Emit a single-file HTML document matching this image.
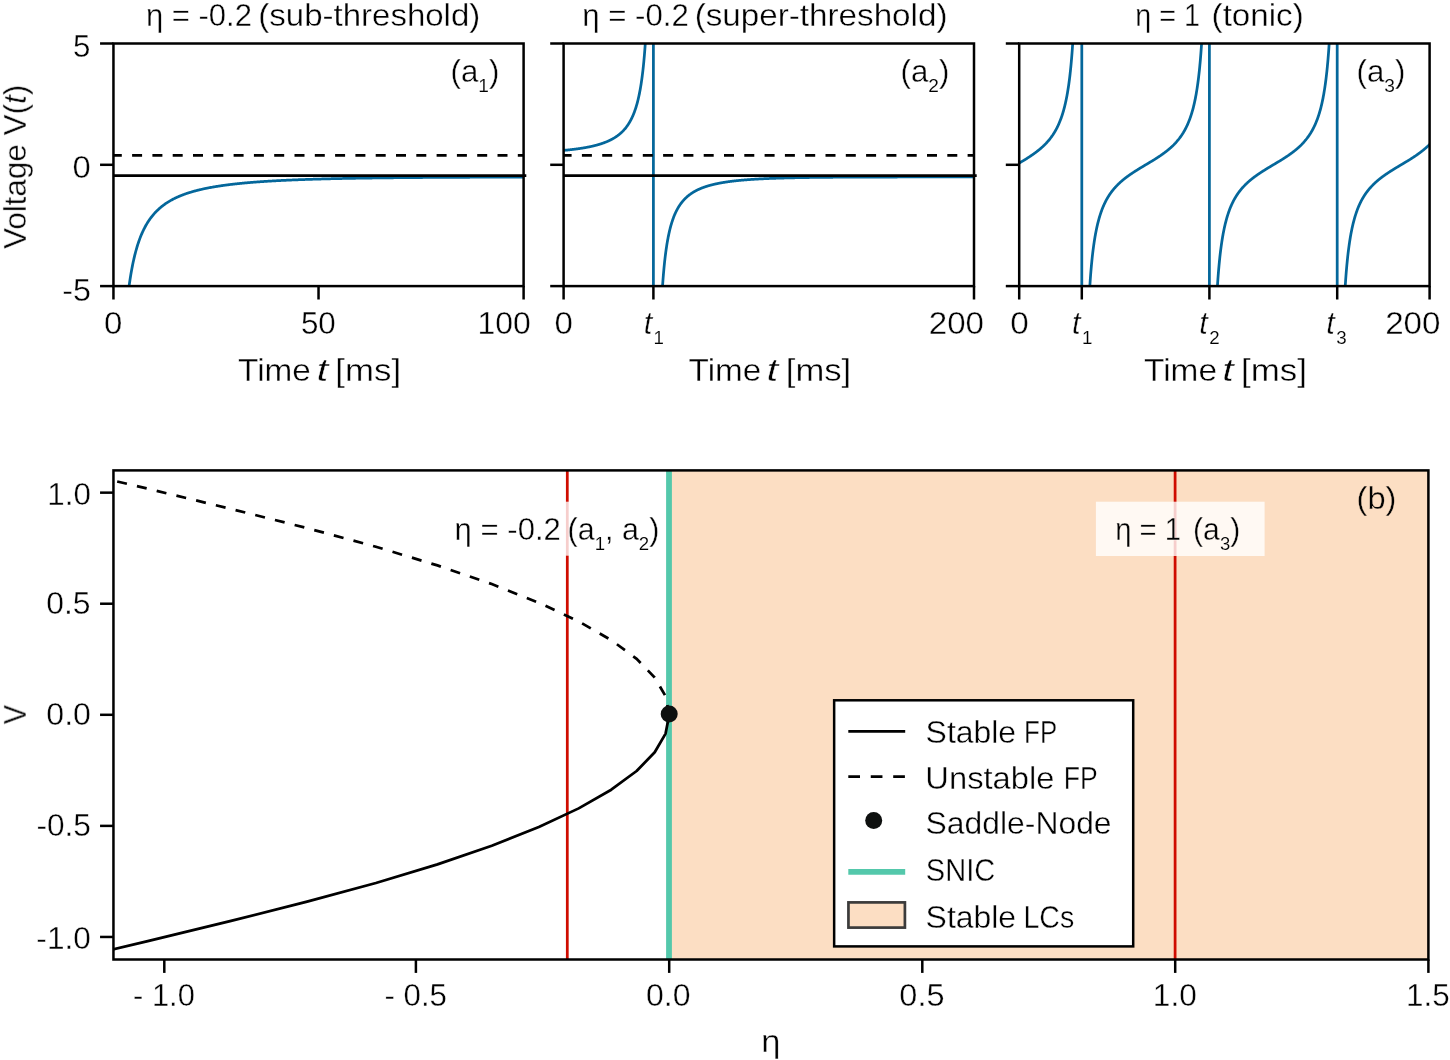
<!DOCTYPE html>
<html><head><meta charset="utf-8"><title>QIF neuron</title>
<style>
html,body{margin:0;padding:0;background:#fff;}
body{width:1450px;height:1060px;overflow:hidden;font-family:"Liberation Sans",sans-serif;}
svg{display:block;}
</style></head><body>
<svg width="1450" height="1060" viewBox="0 0 1450 1060">
<rect width="1450" height="1060" fill="#fff"/>
<defs>
<clipPath id="c0"><rect x="113.45" y="43.5" width="410.15" height="242.6"/></clipPath>
<clipPath id="c1"><rect x="563.6" y="43.5" width="410.4" height="242.6"/></clipPath>
<clipPath id="c2"><rect x="1019.2" y="43.5" width="410.4" height="242.6"/></clipPath>
</defs>
<g clip-path="url(#c0)">
<path d="M119.6 450.38 L120.01 434.54 L120.42 420.36 L120.83 407.6 L121.24 396.06 L121.65 385.57 L122.06 375.99 L122.47 367.21 L122.88 359.13 L123.29 351.68 L123.7 344.78 L124.11 338.37 L124.52 332.4 L124.93 326.84 L125.34 321.63 L125.75 316.75 L126.16 312.16 L126.57 307.85 L126.98 303.78 L127.4 299.94 L127.81 296.31 L128.22 292.87 L128.63 289.6 L129.04 286.5 L129.45 283.56 L129.86 280.75 L130.27 278.07 L130.68 275.52 L131.09 273.08 L131.5 270.74 L131.91 268.51 L132.32 266.37 L132.73 264.32 L133.14 262.34 L133.55 260.45 L133.96 258.63 L134.37 256.88 L134.78 255.2 L135.19 253.57 L135.6 252.01 L136.01 250.5 L136.42 249.04 L136.83 247.63 L137.24 246.27 L137.65 244.96 L138.06 243.68 L138.47 242.45 L138.88 241.26 L139.29 240.1 L139.7 238.98 L140.11 237.89 L140.52 236.84 L140.93 235.81 L141.34 234.82 L141.75 233.85 L142.16 232.92 L142.57 232 L142.98 231.11 L143.39 230.25 L143.8 229.41 L144.21 228.59 L144.62 227.79 L145.03 227.01 L145.44 226.26 L145.85 225.52 L146.26 224.8 L146.67 224.09 L147.08 223.41 L147.49 222.74 L147.9 222.09 L148.31 221.45 L148.72 220.82 L149.13 220.21 L149.54 219.62 L149.95 219.04 L150.36 218.47 L150.77 217.91 L151.18 217.36 L151.59 216.83 L152 216.31 L152.41 215.8 L152.82 215.3 L153.23 214.81 L153.64 214.33 L154.05 213.86 L154.46 213.4 L154.88 212.94 L155.29 212.5 L155.7 212.07 L156.11 211.64 L156.52 211.22 L156.93 210.81 L157.34 210.41 L157.75 210.02 L158.16 209.63 L158.57 209.25 L158.98 208.87 L159.39 208.51 L159.8 208.15 L160.21 207.79 L160.62 207.45 L161.03 207.1 L161.44 206.77 L161.85 206.44 L162.26 206.11 L162.67 205.8 L163.08 205.48 L163.49 205.17 L163.9 204.87 L164.31 204.57 L164.72 204.28 L165.13 203.99 L165.54 203.71 L165.95 203.43 L166.36 203.15 L166.77 202.88 L167.18 202.62 L167.59 202.35 L168 202.1 L168.41 201.84 L168.82 201.59 L169.23 201.34 L169.64 201.1 L170.05 200.86 L170.46 200.62 L170.87 200.39 L171.28 200.16 L171.69 199.94 L172.1 199.72 L172.51 199.5 L172.92 199.28 L173.33 199.07 L173.74 198.86 L174.15 198.65 L174.56 198.44 L174.97 198.24 L175.38 198.04 L175.79 197.85 L176.2 197.65 L176.61 197.46 L177.02 197.28 L177.43 197.09 L177.84 196.91 L178.25 196.73 L178.66 196.55 L179.07 196.37 L179.48 196.2 L179.89 196.02 L180.3 195.86 L180.71 195.69 L181.12 195.52 L181.53 195.36 L181.95 195.2 L182.36 195.04 L182.77 194.88 L183.18 194.73 L183.59 194.57 L184 194.42 L184.41 194.27 L184.82 194.12 L185.23 193.98 L185.64 193.83 L186.05 193.69 L186.46 193.55 L186.87 193.41 L187.28 193.27 L187.69 193.14 L188.1 193 L188.51 192.87 L188.92 192.74 L189.33 192.61 L189.74 192.48 L190.15 192.35 L190.56 192.23 L190.97 192.11 L191.38 191.98 L191.79 191.86 L192.2 191.74 L192.61 191.62 L193.02 191.51 L193.43 191.39 L193.84 191.27 L194.25 191.16 L194.66 191.05 L195.07 190.94 L195.48 190.83 L195.89 190.72 L196.3 190.61 L196.71 190.51 L197.12 190.4 L197.53 190.3 L197.94 190.19 L198.35 190.09 L198.76 189.99 L199.17 189.89 L199.58 189.79 L199.99 189.69 L200.4 189.6 L200.81 189.5 L201.22 189.41 L201.63 189.31 L202.04 189.22 L202.45 189.13 L202.86 189.03 L203.27 188.94 L203.68 188.86 L204.09 188.77 L204.5 188.68 L204.91 188.59 L205.32 188.51 L205.73 188.42 L206.14 188.34 L206.55 188.25 L206.96 188.17 L207.37 188.09 L207.78 188.01 L208.19 187.93 L208.6 187.85 L209.01 187.77 L209.43 187.69 L209.84 187.61 L210.25 187.54 L210.66 187.46 L211.07 187.39 L211.48 187.31 L211.89 187.24 L212.3 187.17 L212.71 187.09 L213.12 187.02 L213.53 186.95 L213.94 186.88 L214.35 186.81 L214.76 186.74 L215.17 186.67 L215.58 186.6 L215.99 186.54 L216.4 186.47 L216.81 186.4 L217.22 186.34 L217.63 186.27 L218.04 186.21 L218.45 186.14 L218.86 186.08 L219.27 186.02 L219.68 185.96 L220.09 185.89 L220.5 185.83 L220.91 185.77 L221.32 185.71 L221.73 185.65 L222.14 185.59 L222.55 185.54 L222.96 185.48 L223.37 185.42 L223.78 185.36 L224.19 185.31 L224.6 185.25 L225.01 185.19 L225.42 185.14 L225.83 185.08 L226.24 185.03 L226.65 184.98 L227.06 184.92 L227.47 184.87 L227.88 184.82 L228.29 184.77 L228.7 184.71 L229.11 184.66 L229.52 184.61 L229.93 184.56 L230.34 184.51 L230.75 184.46 L231.16 184.41 L231.57 184.36 L231.98 184.32 L232.39 184.27 L232.8 184.22 L233.21 184.17 L233.62 184.13 L234.03 184.08 L234.44 184.03 L234.85 183.99 L235.26 183.94 L235.67 183.9 L236.08 183.85 L236.5 183.81 L236.91 183.76 L237.32 183.72 L237.73 183.68 L238.14 183.64 L238.55 183.59 L238.96 183.55 L239.37 183.51 L239.78 183.47 L240.19 183.43 L240.6 183.38 L241.01 183.34 L241.42 183.3 L241.83 183.26 L242.24 183.22 L242.65 183.18 L243.06 183.14 L243.47 183.11 L243.88 183.07 L244.29 183.03 L244.7 182.99 L245.11 182.95 L245.52 182.92 L245.93 182.88 L246.34 182.84 L246.75 182.8 L247.16 182.77 L247.57 182.73 L247.98 182.7 L248.39 182.66 L248.8 182.63 L249.21 182.59 L249.62 182.56 L250.03 182.52 L250.44 182.49 L250.85 182.45 L251.26 182.42 L251.67 182.39 L252.08 182.35 L252.49 182.32 L252.9 182.29 L253.31 182.25 L253.72 182.22 L254.13 182.19 L254.54 182.16 L254.95 182.13 L255.36 182.09 L255.77 182.06 L256.18 182.03 L256.59 182 L257 181.97 L257.41 181.94 L257.82 181.91 L258.23 181.88 L258.64 181.85 L259.05 181.82 L259.46 181.79 L259.87 181.76 L260.28 181.73 L260.69 181.71 L261.1 181.68 L261.51 181.65 L261.92 181.62 L262.33 181.59 L262.74 181.57 L263.15 181.54 L263.56 181.51 L263.98 181.48 L264.39 181.46 L264.8 181.43 L265.21 181.4 L265.62 181.38 L266.03 181.35 L266.44 181.32 L266.85 181.3 L267.26 181.27 L267.67 181.25 L268.08 181.22 L268.49 181.2 L268.9 181.17 L269.31 181.15 L269.72 181.12 L270.13 181.1 L270.54 181.07 L270.95 181.05 L271.36 181.03 L271.77 181 L272.18 180.98 L272.59 180.95 L273 180.93 L273.41 180.91 L273.82 180.88 L274.23 180.86 L274.64 180.84 L275.05 180.82 L275.46 180.79 L275.87 180.77 L276.28 180.75 L276.69 180.73 L277.1 180.71 L277.51 180.68 L277.92 180.66 L278.33 180.64 L278.74 180.62 L279.15 180.6 L279.56 180.58 L279.97 180.56 L280.38 180.54 L280.79 180.51 L281.2 180.49 L281.61 180.47 L282.02 180.45 L282.43 180.43 L282.84 180.41 L283.25 180.39 L283.66 180.37 L284.07 180.35 L284.48 180.33 L284.89 180.32 L285.3 180.3 L285.71 180.28 L286.12 180.26 L286.53 180.24 L286.94 180.22 L287.35 180.2 L287.76 180.18 L288.17 180.16 L288.58 180.15 L288.99 180.13 L289.4 180.11 L289.81 180.09 L290.22 180.07 L290.63 180.06 L291.04 180.04 L291.46 180.02 L291.87 180 L292.28 179.99 L292.69 179.97 L293.1 179.95 L293.51 179.94 L293.92 179.92 L294.33 179.9 L294.74 179.89 L295.15 179.87 L295.56 179.85 L295.97 179.84 L296.38 179.82 L296.79 179.8 L297.2 179.79 L297.61 179.77 L298.02 179.76 L298.43 179.74 L298.84 179.73 L299.25 179.71 L299.66 179.69 L300.07 179.68 L300.48 179.66 L300.89 179.65 L301.3 179.63 L301.71 179.62 L302.12 179.6 L302.53 179.59 L302.94 179.57 L303.35 179.56 L303.76 179.54 L304.17 179.53 L304.58 179.52 L304.99 179.5 L305.4 179.49 L305.81 179.47 L306.22 179.46 L306.63 179.45 L307.04 179.43 L307.45 179.42 L307.86 179.4 L308.27 179.39 L308.68 179.38 L309.09 179.36 L309.5 179.35 L309.91 179.34 L310.32 179.32 L310.73 179.31 L311.14 179.3 L311.55 179.28 L311.96 179.27 L312.37 179.26 L312.78 179.25 L313.19 179.23 L313.6 179.22 L314.01 179.21 L314.42 179.2 L314.83 179.18 L315.24 179.17 L315.65 179.16 L316.06 179.15 L316.47 179.14 L316.88 179.12 L317.29 179.11 L317.7 179.1 L318.11 179.09 L318.53 179.08 L318.94 179.06 L319.35 179.05 L319.76 179.04 L320.17 179.03 L320.58 179.02 L320.99 179.01 L321.4 179 L321.81 178.98 L322.22 178.97 L322.63 178.96 L323.04 178.95 L323.45 178.94 L323.86 178.93 L324.27 178.92 L324.68 178.91 L325.09 178.9 L325.5 178.89 L325.91 178.88 L326.32 178.87 L326.73 178.86 L327.14 178.85 L327.55 178.83 L327.96 178.82 L328.37 178.81 L328.78 178.8 L329.19 178.79 L329.6 178.78 L330.01 178.77 L330.42 178.76 L330.83 178.75 L331.24 178.74 L331.65 178.74 L332.06 178.73 L332.47 178.72 L332.88 178.71 L333.29 178.7 L333.7 178.69 L334.11 178.68 L334.52 178.67 L334.93 178.66 L335.34 178.65 L335.75 178.64 L336.16 178.63 L336.57 178.62 L336.98 178.61 L337.39 178.6 L337.8 178.6 L338.21 178.59 L338.62 178.58 L339.03 178.57 L339.44 178.56 L339.85 178.55 L340.26 178.54 L340.67 178.53 L341.08 178.53 L341.49 178.52 L341.9 178.51 L342.31 178.5 L342.72 178.49 L343.13 178.48 L343.54 178.48 L343.95 178.47 L344.36 178.46 L344.77 178.45 L345.18 178.44 L345.59 178.44 L346.01 178.43 L346.42 178.42 L346.83 178.41 L347.24 178.4 L347.65 178.4 L348.06 178.39 L348.47 178.38 L348.88 178.37 L349.29 178.37 L349.7 178.36 L350.11 178.35 L350.52 178.34 L350.93 178.34 L351.34 178.33 L351.75 178.32 L352.16 178.31 L352.57 178.31 L352.98 178.3 L353.39 178.29 L353.8 178.28 L354.21 178.28 L354.62 178.27 L355.03 178.26 L355.44 178.26 L355.85 178.25 L356.26 178.24 L356.67 178.24 L357.08 178.23 L357.49 178.22 L357.9 178.21 L358.31 178.21 L358.72 178.2 L359.13 178.19 L359.54 178.19 L359.95 178.18 L360.36 178.17 L360.77 178.17 L361.18 178.16 L361.59 178.16 L362 178.15 L362.41 178.14 L362.82 178.14 L363.23 178.13 L363.64 178.12 L364.05 178.12 L364.46 178.11 L364.87 178.1 L365.28 178.1 L365.69 178.09 L366.1 178.09 L366.51 178.08 L366.92 178.07 L367.33 178.07 L367.74 178.06 L368.15 178.06 L368.56 178.05 L368.97 178.04 L369.38 178.04 L369.79 178.03 L370.2 178.03 L370.61 178.02 L371.02 178.02 L371.43 178.01 L371.84 178 L372.25 178 L372.66 177.99 L373.07 177.99 L373.49 177.98 L373.9 177.98 L374.31 177.97 L374.72 177.97 L375.13 177.96 L375.54 177.96 L375.95 177.95 L376.36 177.94 L376.77 177.94 L377.18 177.93 L377.59 177.93 L378 177.92 L378.41 177.92 L378.82 177.91 L379.23 177.91 L379.64 177.9 L380.05 177.9 L380.46 177.89 L380.87 177.89 L381.28 177.88 L381.69 177.88 L382.1 177.87 L382.51 177.87 L382.92 177.86 L383.33 177.86 L383.74 177.85 L384.15 177.85 L384.56 177.84 L384.97 177.84 L385.38 177.84 L385.79 177.83 L386.2 177.83 L386.61 177.82 L387.02 177.82 L387.43 177.81 L387.84 177.81 L388.25 177.8 L388.66 177.8 L389.07 177.79 L389.48 177.79 L389.89 177.79 L390.3 177.78 L390.71 177.78 L391.12 177.77 L391.53 177.77 L391.94 177.76 L392.35 177.76 L392.76 177.75 L393.17 177.75 L393.58 177.75 L393.99 177.74 L394.4 177.74 L394.81 177.73 L395.22 177.73 L395.63 177.73 L396.04 177.72 L396.45 177.72 L396.86 177.71 L397.27 177.71 L397.68 177.71 L398.09 177.7 L398.5 177.7 L398.91 177.69 L399.32 177.69 L399.73 177.69 L400.14 177.68 L400.56 177.68 L400.97 177.67 L401.38 177.67 L401.79 177.67 L402.2 177.66 L402.61 177.66 L403.02 177.65 L403.43 177.65 L403.84 177.65 L404.25 177.64 L404.66 177.64 L405.07 177.64 L405.48 177.63 L405.89 177.63 L406.3 177.63 L406.71 177.62 L407.12 177.62 L407.53 177.62 L407.94 177.61 L408.35 177.61 L408.76 177.6 L409.17 177.6 L409.58 177.6 L409.99 177.59 L410.4 177.59 L410.81 177.59 L411.22 177.58 L411.63 177.58 L412.04 177.58 L412.45 177.57 L412.86 177.57 L413.27 177.57 L413.68 177.56 L414.09 177.56 L414.5 177.56 L414.91 177.55 L415.32 177.55 L415.73 177.55 L416.14 177.54 L416.55 177.54 L416.96 177.54 L417.37 177.54 L417.78 177.53 L418.19 177.53 L418.6 177.53 L419.01 177.52 L419.42 177.52 L419.83 177.52 L420.24 177.51 L420.65 177.51 L421.06 177.51 L421.47 177.51 L421.88 177.5 L422.29 177.5 L422.7 177.5 L423.11 177.49 L423.52 177.49 L423.93 177.49 L424.34 177.49 L424.75 177.48 L425.16 177.48 L425.57 177.48 L425.98 177.47 L426.39 177.47 L426.8 177.47 L427.21 177.47 L427.62 177.46 L428.04 177.46 L428.45 177.46 L428.86 177.45 L429.27 177.45 L429.68 177.45 L430.09 177.45 L430.5 177.44 L430.91 177.44 L431.32 177.44 L431.73 177.44 L432.14 177.43 L432.55 177.43 L432.96 177.43 L433.37 177.43 L433.78 177.42 L434.19 177.42 L434.6 177.42 L435.01 177.42 L435.42 177.41 L435.83 177.41 L436.24 177.41 L436.65 177.41 L437.06 177.4 L437.47 177.4 L437.88 177.4 L438.29 177.4 L438.7 177.39 L439.11 177.39 L439.52 177.39 L439.93 177.39 L440.34 177.38 L440.75 177.38 L441.16 177.38 L441.57 177.38 L441.98 177.38 L442.39 177.37 L442.8 177.37 L443.21 177.37 L443.62 177.37 L444.03 177.36 L444.44 177.36 L444.85 177.36 L445.26 177.36 L445.67 177.36 L446.08 177.35 L446.49 177.35 L446.9 177.35 L447.31 177.35 L447.72 177.35 L448.13 177.34 L448.54 177.34 L448.95 177.34 L449.36 177.34 L449.77 177.33 L450.18 177.33 L450.59 177.33 L451 177.33 L451.41 177.33 L451.82 177.32 L452.23 177.32 L452.64 177.32 L453.05 177.32 L453.46 177.32 L453.87 177.31 L454.28 177.31 L454.69 177.31 L455.1 177.31 L455.52 177.31 L455.93 177.3 L456.34 177.3 L456.75 177.3 L457.16 177.3 L457.57 177.3 L457.98 177.3 L458.39 177.29 L458.8 177.29 L459.21 177.29 L459.62 177.29 L460.03 177.29 L460.44 177.28 L460.85 177.28 L461.26 177.28 L461.67 177.28 L462.08 177.28 L462.49 177.28 L462.9 177.27 L463.31 177.27 L463.72 177.27 L464.13 177.27 L464.54 177.27 L464.95 177.27 L465.36 177.26 L465.77 177.26 L466.18 177.26 L466.59 177.26 L467 177.26 L467.41 177.26 L467.82 177.25 L468.23 177.25 L468.64 177.25 L469.05 177.25 L469.46 177.25 L469.87 177.25 L470.28 177.24 L470.69 177.24 L471.1 177.24 L471.51 177.24 L471.92 177.24 L472.33 177.24 L472.74 177.23 L473.15 177.23 L473.56 177.23 L473.97 177.23 L474.38 177.23 L474.79 177.23 L475.2 177.23 L475.61 177.22 L476.02 177.22 L476.43 177.22 L476.84 177.22 L477.25 177.22 L477.66 177.22 L478.07 177.22 L478.48 177.21 L478.89 177.21 L479.3 177.21 L479.71 177.21 L480.12 177.21 L480.53 177.21 L480.94 177.21 L481.35 177.2 L481.76 177.2 L482.17 177.2 L482.58 177.2 L483 177.2 L483.41 177.2 L483.82 177.2 L484.23 177.19 L484.64 177.19 L485.05 177.19 L485.46 177.19 L485.87 177.19 L486.28 177.19 L486.69 177.19 L487.1 177.19 L487.51 177.18 L487.92 177.18 L488.33 177.18 L488.74 177.18 L489.15 177.18 L489.56 177.18 L489.97 177.18 L490.38 177.18 L490.79 177.17 L491.2 177.17 L491.61 177.17 L492.02 177.17 L492.43 177.17 L492.84 177.17 L493.25 177.17 L493.66 177.17 L494.07 177.16 L494.48 177.16 L494.89 177.16 L495.3 177.16 L495.71 177.16 L496.12 177.16 L496.53 177.16 L496.94 177.16 L497.35 177.15 L497.76 177.15 L498.17 177.15 L498.58 177.15 L498.99 177.15 L499.4 177.15 L499.81 177.15 L500.22 177.15 L500.63 177.15 L501.04 177.14 L501.45 177.14 L501.86 177.14 L502.27 177.14 L502.68 177.14 L503.09 177.14 L503.5 177.14 L503.91 177.14 L504.32 177.14 L504.73 177.14 L505.14 177.13 L505.55 177.13 L505.96 177.13 L506.37 177.13 L506.78 177.13 L507.19 177.13 L507.6 177.13 L508.01 177.13 L508.42 177.13 L508.83 177.13 L509.24 177.12 L509.65 177.12 L510.07 177.12 L510.48 177.12 L510.89 177.12 L511.3 177.12 L511.71 177.12 L512.12 177.12 L512.53 177.12 L512.94 177.12 L513.35 177.11 L513.76 177.11 L514.17 177.11 L514.58 177.11 L514.99 177.11 L515.4 177.11 L515.81 177.11 L516.22 177.11 L516.63 177.11 L517.04 177.11 L517.45 177.11 L517.86 177.1 L518.27 177.1 L518.68 177.1 L519.09 177.1 L519.5 177.1 L519.91 177.1 L520.32 177.1 L520.73 177.1 L521.14 177.1 L521.55 177.1 L521.96 177.1 L522.37 177.1 L522.78 177.09 L523.19 177.09 L523.6 177.09" fill="none" stroke="#04679b" stroke-width="2.75" stroke-linejoin="round"/>
<line x1="111.8" y1="155.35" x2="523.6" y2="155.35" stroke="#000" stroke-width="2.75" stroke-dasharray="10 10.3"/>
</g>
<line x1="113.45" y1="175.65" x2="526.3" y2="175.65" stroke="#000" stroke-width="2.75"/>
<rect x="113.45" y="43.5" width="410.15" height="242.6" fill="none" stroke="#000" stroke-width="2.5"/>
<line x1="100.05" y1="43.5" x2="113.45" y2="43.5" stroke="#000" stroke-width="2.5"/>
<line x1="100.05" y1="164.8" x2="113.45" y2="164.8" stroke="#000" stroke-width="2.5"/>
<line x1="100.05" y1="286.1" x2="113.45" y2="286.1" stroke="#000" stroke-width="2.5"/>
<line x1="113.45" y1="286.1" x2="113.45" y2="299.5" stroke="#000" stroke-width="2.5"/>
<line x1="318.53" y1="286.1" x2="318.53" y2="299.5" stroke="#000" stroke-width="2.5"/>
<line x1="523.6" y1="286.1" x2="523.6" y2="299.5" stroke="#000" stroke-width="2.5"/>
<g clip-path="url(#c1)">
<path d="M563.6 150.39 L563.8 150.37 L564 150.35 L564.2 150.34 L564.4 150.32 L564.6 150.3 L564.8 150.28 L565 150.26 L565.2 150.24 L565.4 150.22 L565.6 150.2 L565.8 150.18 L566 150.17 L566.2 150.15 L566.4 150.13 L566.6 150.11 L566.8 150.09 L567 150.07 L567.2 150.05 L567.4 150.03 L567.6 150.01 L567.8 149.99 L568 149.97 L568.2 149.95 L568.4 149.92 L568.6 149.9 L568.8 149.88 L569 149.86 L569.2 149.84 L569.4 149.82 L569.6 149.8 L569.8 149.78 L570 149.75 L570.2 149.73 L570.4 149.71 L570.6 149.69 L570.8 149.67 L571 149.64 L571.2 149.62 L571.4 149.6 L571.6 149.58 L571.8 149.55 L572 149.53 L572.2 149.51 L572.4 149.48 L572.6 149.46 L572.8 149.44 L573 149.41 L573.2 149.39 L573.4 149.36 L573.6 149.34 L573.8 149.31 L574 149.29 L574.2 149.26 L574.4 149.24 L574.6 149.21 L574.8 149.19 L575 149.16 L575.2 149.14 L575.4 149.11 L575.6 149.09 L575.8 149.06 L576 149.03 L576.2 149.01 L576.4 148.98 L576.6 148.96 L576.8 148.93 L577 148.9 L577.2 148.87 L577.4 148.85 L577.6 148.82 L577.8 148.79 L578 148.76 L578.2 148.74 L578.4 148.71 L578.6 148.68 L578.8 148.65 L579 148.62 L579.2 148.59 L579.4 148.56 L579.6 148.53 L579.8 148.5 L580 148.47 L580.2 148.44 L580.4 148.41 L580.6 148.38 L580.8 148.35 L581 148.32 L581.2 148.29 L581.4 148.26 L581.6 148.23 L581.8 148.2 L582 148.17 L582.2 148.13 L582.4 148.1 L582.6 148.07 L582.8 148.04 L583 148 L583.2 147.97 L583.4 147.94 L583.6 147.9 L583.8 147.87 L584 147.83 L584.2 147.8 L584.4 147.77 L584.6 147.73 L584.8 147.7 L585 147.66 L585.2 147.63 L585.4 147.59 L585.6 147.55 L585.8 147.52 L586 147.48 L586.2 147.44 L586.4 147.41 L586.6 147.37 L586.8 147.33 L587 147.29 L587.2 147.26 L587.4 147.22 L587.6 147.18 L587.8 147.14 L588 147.1 L588.2 147.06 L588.4 147.02 L588.6 146.98 L588.8 146.94 L589 146.9 L589.2 146.86 L589.4 146.82 L589.6 146.78 L589.8 146.74 L590 146.69 L590.2 146.65 L590.4 146.61 L590.6 146.57 L590.8 146.52 L591 146.48 L591.2 146.44 L591.4 146.39 L591.6 146.35 L591.8 146.3 L592 146.26 L592.2 146.21 L592.4 146.17 L592.6 146.12 L592.8 146.07 L593 146.03 L593.2 145.98 L593.4 145.93 L593.6 145.88 L593.8 145.83 L594 145.79 L594.2 145.74 L594.4 145.69 L594.6 145.64 L594.8 145.59 L595 145.54 L595.2 145.48 L595.4 145.43 L595.6 145.38 L595.8 145.33 L596 145.28 L596.2 145.22 L596.4 145.17 L596.6 145.12 L596.8 145.06 L597 145.01 L597.2 144.95 L597.4 144.89 L597.6 144.84 L597.8 144.78 L598 144.73 L598.2 144.67 L598.4 144.61 L598.6 144.55 L598.8 144.49 L599 144.43 L599.2 144.37 L599.4 144.31 L599.6 144.25 L599.8 144.19 L600 144.13 L600.2 144.07 L600.4 144 L600.6 143.94 L600.8 143.88 L601 143.81 L601.2 143.75 L601.4 143.68 L601.6 143.61 L601.8 143.55 L602 143.48 L602.2 143.41 L602.4 143.34 L602.6 143.27 L602.8 143.2 L603 143.13 L603.2 143.06 L603.4 142.99 L603.6 142.92 L603.8 142.85 L604 142.77 L604.2 142.7 L604.4 142.62 L604.6 142.55 L604.8 142.47 L605 142.39 L605.2 142.32 L605.4 142.24 L605.6 142.16 L605.8 142.08 L606 142 L606.2 141.92 L606.4 141.84 L606.6 141.75 L606.8 141.67 L607 141.59 L607.2 141.5 L607.4 141.42 L607.6 141.33 L607.8 141.24 L608 141.15 L608.2 141.06 L608.4 140.97 L608.6 140.88 L608.8 140.79 L609 140.7 L609.2 140.61 L609.4 140.51 L609.6 140.42 L609.8 140.32 L610 140.22 L610.2 140.12 L610.4 140.03 L610.6 139.93 L610.8 139.82 L611 139.72 L611.2 139.62 L611.4 139.51 L611.6 139.41 L611.8 139.3 L612 139.2 L612.2 139.09 L612.4 138.98 L612.6 138.87 L612.8 138.75 L613 138.64 L613.2 138.53 L613.4 138.41 L613.6 138.29 L613.8 138.18 L614 138.06 L614.2 137.94 L614.4 137.81 L614.6 137.69 L614.8 137.57 L615 137.44 L615.2 137.31 L615.4 137.18 L615.6 137.05 L615.8 136.92 L616 136.79 L616.2 136.65 L616.4 136.52 L616.6 136.38 L616.8 136.24 L617 136.1 L617.2 135.96 L617.4 135.81 L617.6 135.67 L617.8 135.52 L618 135.37 L618.2 135.22 L618.4 135.06 L618.6 134.91 L618.8 134.75 L619 134.59 L619.2 134.43 L619.4 134.27 L619.6 134.11 L619.8 133.94 L620 133.77 L620.2 133.6 L620.4 133.43 L620.6 133.25 L620.8 133.07 L621 132.9 L621.2 132.71 L621.4 132.53 L621.6 132.34 L621.8 132.15 L622 131.96 L622.2 131.77 L622.4 131.57 L622.6 131.37 L622.8 131.17 L623 130.96 L623.2 130.76 L623.4 130.54 L623.6 130.33 L623.8 130.11 L624 129.9 L624.2 129.67 L624.4 129.45 L624.6 129.22 L624.8 128.99 L625 128.75 L625.2 128.51 L625.4 128.27 L625.6 128.02 L625.8 127.77 L626 127.52 L626.2 127.26 L626.4 127 L626.6 126.73 L626.8 126.46 L627 126.19 L627.2 125.91 L627.4 125.63 L627.6 125.34 L627.8 125.05 L628 124.76 L628.2 124.45 L628.4 124.15 L628.6 123.84 L628.8 123.52 L629 123.2 L629.2 122.87 L629.4 122.54 L629.6 122.2 L629.8 121.86 L630 121.51 L630.2 121.15 L630.4 120.79 L630.6 120.42 L630.8 120.05 L631 119.67 L631.2 119.28 L631.4 118.88 L631.6 118.48 L631.8 118.07 L632 117.65 L632.2 117.22 L632.4 116.79 L632.6 116.34 L632.8 115.89 L633 115.43 L633.2 114.96 L633.4 114.48 L633.6 113.99 L633.8 113.49 L634 112.98 L634.2 112.45 L634.4 111.92 L634.6 111.38 L634.8 110.82 L635 110.26 L635.2 109.67 L635.4 109.08 L635.6 108.47 L635.8 107.85 L636 107.22 L636.2 106.57 L636.4 105.9 L636.6 105.22 L636.8 104.52 L637 103.81 L637.2 103.08 L637.4 102.33 L637.6 101.56 L637.8 100.77 L638 99.96 L638.2 99.12 L638.4 98.27 L638.6 97.39 L638.8 96.49 L639 95.57 L639.2 94.61 L639.4 93.63 L639.6 92.62 L639.8 91.59 L640 90.52 L640.2 89.42 L640.4 88.28 L640.6 87.11 L640.8 85.9 L641 84.66 L641.2 83.37 L641.4 82.04 L641.6 80.67 L641.8 79.24 L642 77.77 L642.2 76.25 L642.4 74.67 L642.6 73.03 L642.8 71.33 L643 69.56 L643.2 67.73 L643.4 65.83 L643.6 63.84 L643.8 61.78 L644 59.62 L644.2 57.38 L644.4 55.03 L644.6 52.58 L644.8 50.02 L645 47.33 L645.2 44.52 L645.4 41.56 L645.6 38.46 L645.8 35.19 L646 31.75 L646.2 28.12 L646.4 24.29 L646.6 20.23 L646.8 15.93 L647 11.37 L647.2 6.52 L647.4 1.34 L647.6 -4.18 L647.8 -10.1 L648 -16.44 L648.2 -23.26 L648.4 -30.62 L648.6 -38.58 L648.8 -47.22 L649 -56.63 L649.2 -66.91 L649.4 -78.2 L649.6 -90.64 L649.8 -104.44 L650 -119.8" fill="none" stroke="#04679b" stroke-width="2.75" stroke-linejoin="round"/>
<line x1="653.4" y1="38.5" x2="653.4" y2="291.1" stroke="#04679b" stroke-width="2.75"/>
<path d="M657.8 449.44 L658 434.07 L658.2 420.28 L658.4 407.84 L658.6 396.55 L658.8 386.27 L659 376.87 L659.2 368.23 L659.4 360.27 L659.6 352.92 L659.8 346.09 L660 339.75 L660.2 333.84 L660.4 328.32 L660.6 323.15 L660.8 318.29 L661 313.73 L661.2 309.43 L661.4 305.38 L661.6 301.55 L661.8 297.92 L662 294.48 L662.2 291.22 L662.4 288.12 L662.6 285.16 L662.8 282.35 L663 279.67 L663.2 277.11 L663.4 274.66 L663.6 272.31 L663.8 270.07 L664 267.92 L664.2 265.86 L664.4 263.87 L664.6 261.97 L664.8 260.14 L665 258.38 L665.2 256.68 L665.4 255.04 L665.6 253.46 L665.8 251.94 L666 250.47 L666.2 249.05 L666.4 247.68 L666.6 246.35 L666.8 245.07 L667 243.82 L667.2 242.62 L667.4 241.45 L667.6 240.31 L667.8 239.21 L668 238.15 L668.2 237.11 L668.4 236.11 L668.6 235.13 L668.8 234.18 L669 233.25 L669.2 232.35 L669.4 231.48 L669.6 230.63 L669.8 229.8 L670 228.99 L670.2 228.2 L670.4 227.43 L670.6 226.68 L670.8 225.95 L671 225.24 L671.2 224.54 L671.4 223.86 L671.6 223.2 L671.8 222.55 L672 221.92 L672.2 221.3 L672.4 220.7 L672.6 220.1 L672.8 219.53 L673 218.96 L673.2 218.41 L673.4 217.86 L673.6 217.33 L673.8 216.81 L674 216.31 L674.2 215.81 L674.4 215.32 L674.6 214.84 L674.8 214.37 L675 213.91 L675.2 213.46 L675.4 213.02 L675.6 212.59 L675.8 212.16 L676 211.75 L676.2 211.34 L676.4 210.93 L676.6 210.54 L676.8 210.15 L677 209.77 L677.2 209.4 L677.4 209.03 L677.6 208.67 L677.8 208.32 L678 207.97 L678.2 207.63 L678.4 207.29 L678.6 206.96 L678.8 206.64 L679 206.32 L679.2 206 L679.4 205.7 L679.6 205.39 L679.8 205.09 L680 204.8 L680.2 204.51 L680.4 204.22 L680.6 203.94 L680.8 203.67 L681 203.4 L681.2 203.13 L681.4 202.86 L681.6 202.6 L681.8 202.35 L682 202.1 L682.2 201.85 L682.4 201.61 L682.6 201.36 L682.8 201.13 L683 200.89 L683.2 200.66 L683.4 200.44 L683.6 200.21 L683.8 199.99 L684 199.77 L684.2 199.56 L684.4 199.35 L684.6 199.14 L684.8 198.93 L685 198.73 L685.2 198.53 L685.4 198.33 L685.6 198.14 L685.8 197.94 L686 197.75 L686.2 197.57 L686.4 197.38 L686.6 197.2 L686.8 197.02 L687 196.84 L687.2 196.67 L687.4 196.49 L687.6 196.32 L687.8 196.15 L688 195.99 L688.2 195.82 L688.4 195.66 L688.6 195.5 L688.8 195.34 L689 195.18 L689.2 195.03 L689.4 194.87 L689.6 194.72 L689.8 194.57 L690 194.43 L690.2 194.28 L690.4 194.14 L690.6 193.99 L690.8 193.85 L691 193.71 L691.2 193.58 L691.4 193.44 L691.6 193.31 L691.8 193.17 L692 193.04 L692.2 192.91 L692.4 192.78 L692.6 192.66 L692.8 192.53 L693 192.41 L693.2 192.28 L693.4 192.16 L693.6 192.04 L693.8 191.92 L694 191.8 L694.2 191.69 L694.4 191.57 L694.6 191.46 L694.8 191.35 L695 191.24 L695.2 191.13 L695.4 191.02 L695.6 190.91 L695.8 190.8 L696 190.7 L696.2 190.59 L696.4 190.49 L696.6 190.39 L696.8 190.28 L697 190.18 L697.2 190.08 L697.4 189.99 L697.6 189.89 L697.8 189.79 L698 189.7 L698.2 189.6 L698.4 189.51 L698.6 189.42 L698.8 189.32 L699 189.23 L699.2 189.14 L699.4 189.05 L699.6 188.97 L699.8 188.88 L700 188.79 L700.2 188.71 L700.4 188.62 L700.6 188.54 L700.8 188.45 L701 188.37 L701.2 188.29 L701.4 188.21 L701.6 188.13 L701.8 188.05 L702 187.97 L702.2 187.89 L702.4 187.82 L702.6 187.74 L702.8 187.66 L703 187.59 L703.2 187.51 L703.4 187.44 L703.6 187.37 L703.8 187.3 L704 187.22 L704.2 187.15 L704.4 187.08 L704.6 187.01 L704.8 186.94 L705 186.87 L705.2 186.81 L705.4 186.74 L705.6 186.67 L705.8 186.61 L706 186.54 L706.2 186.47 L706.4 186.41 L706.6 186.35 L706.8 186.28 L707 186.22 L707.2 186.16 L707.4 186.1 L707.6 186.03 L707.8 185.97 L708 185.91 L708.2 185.85 L708.4 185.79 L708.6 185.74 L708.8 185.68 L709 185.62 L709.2 185.56 L709.4 185.51 L709.6 185.45 L709.8 185.39 L710 185.34 L710.2 185.28 L710.4 185.23 L710.6 185.17 L710.8 185.12 L711 185.07 L711.2 185.01 L711.4 184.96 L711.6 184.91 L711.8 184.86 L712 184.81 L712.2 184.76 L712.4 184.71 L712.6 184.66 L712.8 184.61 L713 184.56 L713.2 184.51 L713.4 184.46 L713.6 184.41 L713.8 184.37 L714 184.32 L714.2 184.27 L714.4 184.23 L714.6 184.18 L714.8 184.13 L715 184.09 L715.2 184.04 L715.4 184 L715.6 183.95 L715.8 183.91 L716 183.87 L716.2 183.82 L716.4 183.78 L716.6 183.74 L716.8 183.7 L717 183.65 L717.2 183.61 L717.4 183.57 L717.6 183.53 L717.8 183.49 L718 183.45 L718.2 183.41 L718.4 183.37 L718.6 183.33 L718.8 183.29 L719 183.25 L719.2 183.21 L719.4 183.17 L719.6 183.14 L719.8 183.1 L720 183.06 L720.2 183.02 L720.4 182.99 L720.6 182.95 L720.8 182.91 L721 182.88 L721.2 182.84 L721.4 182.8 L721.6 182.77 L721.8 182.73 L722 182.7 L722.2 182.66 L722.4 182.63 L722.6 182.6 L722.8 182.56 L723 182.53 L723.2 182.5 L723.4 182.46 L723.6 182.43 L723.8 182.4 L724 182.36 L724.2 182.33 L724.4 182.3 L724.6 182.27 L724.8 182.24 L725 182.2 L725.2 182.17 L725.4 182.14 L725.6 182.11 L725.8 182.08 L726 182.05 L726.2 182.02 L726.4 181.99 L726.6 181.96 L726.8 181.93 L727 181.9 L727.2 181.87 L727.4 181.84 L727.6 181.82 L727.8 181.79 L728 181.76 L728.2 181.73 L728.4 181.7 L728.6 181.67 L728.8 181.65 L729 181.62 L729.2 181.59 L729.4 181.57 L729.6 181.54 L729.8 181.51 L730 181.49 L730.2 181.46 L730.4 181.43 L730.6 181.41 L730.8 181.38 L731 181.36 L731.2 181.33 L731.4 181.31 L731.6 181.28 L731.8 181.26 L732 181.23 L732.2 181.21 L732.4 181.18 L732.6 181.16 L732.8 181.13 L733 181.11 L733.2 181.09 L733.4 181.06 L733.6 181.04 L733.8 181.01 L734 180.99 L734.2 180.97 L734.4 180.95 L734.6 180.92 L734.8 180.9 L735 180.88 L735.2 180.86 L735.4 180.83 L735.6 180.81 L735.8 180.79 L736 180.77 L736.2 180.75 L736.4 180.72 L736.6 180.7 L736.8 180.68 L737 180.66 L737.2 180.64 L737.4 180.62 L737.6 180.6 L737.8 180.58 L738 180.56 L738.2 180.54 L738.4 180.52 L738.6 180.5 L738.8 180.48 L739 180.46 L739.2 180.44 L739.4 180.42 L739.6 180.4 L739.8 180.38 L740 180.36 L740.2 180.34 L740.4 180.32 L740.6 180.3 L740.8 180.29 L741 180.27 L741.2 180.25 L741.4 180.23 L741.6 180.21 L741.8 180.19 L742 180.18 L742.2 180.16 L742.4 180.14 L742.6 180.12 L742.8 180.11 L743 180.09 L743.2 180.07 L743.4 180.05 L743.6 180.04 L743.8 180.02 L744 180 L744.2 179.99 L744.4 179.97 L744.6 179.95 L744.8 179.94 L745 179.92 L745.2 179.9 L745.4 179.89 L745.6 179.87 L745.8 179.85 L746 179.84 L746.2 179.82 L746.4 179.81 L746.6 179.79 L746.8 179.78 L747 179.76 L747.2 179.75 L747.4 179.73 L747.6 179.71 L747.8 179.7 L748 179.68 L748.2 179.67 L748.4 179.65 L748.6 179.64 L748.8 179.63 L749 179.61 L749.2 179.6 L749.4 179.58 L749.6 179.57 L749.8 179.55 L750 179.54 L750.2 179.53 L750.4 179.51 L750.6 179.5 L750.8 179.48 L751 179.47 L751.2 179.46 L751.4 179.44 L751.6 179.43 L751.8 179.42 L752 179.4 L752.2 179.39 L752.4 179.38 L752.6 179.36 L752.8 179.35 L753 179.34 L753.2 179.32 L753.4 179.31 L753.6 179.3 L753.8 179.29 L754 179.27 L754.2 179.26 L754.4 179.25 L754.6 179.24 L754.8 179.22 L755 179.21 L755.2 179.2 L755.4 179.19 L755.6 179.18 L755.8 179.16 L756 179.15 L756.2 179.14 L756.4 179.13 L756.6 179.12 L756.8 179.11 L757 179.09 L757.2 179.08 L757.4 179.07 L757.6 179.06 L757.8 179.05 L758 179.04 L758.2 179.03 L758.4 179.01 L758.6 179 L758.8 178.99 L759 178.98 L759.2 178.97 L759.4 178.96 L759.6 178.95 L759.8 178.94 L760 178.93 L760.2 178.92 L760.4 178.91 L760.6 178.9 L760.8 178.89 L761 178.88 L761.2 178.87 L761.4 178.86 L761.6 178.85 L761.8 178.84 L762 178.83 L762.2 178.82 L762.4 178.81 L762.6 178.8 L762.8 178.79 L763 178.78 L763.2 178.77 L763.4 178.76 L763.6 178.75 L763.8 178.74 L764 178.73 L764.2 178.72 L764.4 178.71 L764.6 178.7 L764.8 178.69 L765 178.68 L765.2 178.67 L765.4 178.66 L765.6 178.66 L765.8 178.65 L766 178.64 L766.2 178.63 L766.4 178.62 L766.6 178.61 L766.8 178.6 L767 178.59 L767.2 178.59 L767.4 178.58 L767.6 178.57 L767.8 178.56 L768 178.55 L768.2 178.54 L768.4 178.53 L768.6 178.53 L768.8 178.52 L769 178.51 L769.2 178.5 L769.4 178.49 L769.6 178.49 L769.8 178.48 L770 178.47 L770.2 178.46 L770.4 178.45 L770.6 178.45 L770.8 178.44 L771 178.43 L771.2 178.42 L771.4 178.41 L771.6 178.41 L771.8 178.4 L772 178.39 L772.2 178.38 L772.4 178.38 L772.6 178.37 L772.8 178.36 L773 178.35 L773.2 178.35 L773.4 178.34 L773.6 178.33 L773.8 178.33 L774 178.32 L774.2 178.31 L774.4 178.3 L774.6 178.3 L774.8 178.29 L775 178.28 L775.2 178.28 L775.4 178.27 L775.6 178.26 L775.8 178.26 L776 178.25 L776.2 178.24 L776.4 178.23 L776.6 178.23 L776.8 178.22 L777 178.21 L777.2 178.21 L777.4 178.2 L777.6 178.2 L777.8 178.19 L778 178.18 L778.2 178.18 L778.4 178.17 L778.6 178.16 L778.8 178.16 L779 178.15 L779.2 178.14 L779.4 178.14 L779.6 178.13 L779.8 178.13 L780 178.12 L780.2 178.11 L780.4 178.11 L780.6 178.1 L780.8 178.1 L781 178.09 L781.2 178.08 L781.4 178.08 L781.6 178.07 L781.8 178.07 L782 178.06 L782.2 178.05 L782.4 178.05 L782.6 178.04 L782.8 178.04 L783 178.03 L783.2 178.03 L783.4 178.02 L783.6 178.02 L783.8 178.01 L784 178 L784.2 178 L784.4 177.99 L784.6 177.99 L784.8 177.98 L785 177.98 L785.2 177.97 L785.4 177.97 L785.6 177.96 L785.8 177.96 L786 177.95 L786.2 177.95 L786.4 177.94 L786.6 177.94 L786.8 177.93 L787 177.93 L787.2 177.92 L787.4 177.92 L787.6 177.91 L787.8 177.91 L788 177.9 L788.2 177.9 L788.4 177.89 L788.6 177.89 L788.8 177.88 L789 177.88 L789.2 177.87 L789.4 177.87 L789.6 177.86 L789.8 177.86 L790 177.85 L790.2 177.85 L790.4 177.84 L790.6 177.84 L790.8 177.83 L791 177.83 L791.2 177.83 L791.4 177.82 L791.6 177.82 L791.8 177.81 L792 177.81 L792.2 177.8 L792.4 177.8 L792.6 177.79 L792.8 177.79 L793 177.79 L793.2 177.78 L793.4 177.78 L793.6 177.77 L793.8 177.77 L794 177.76 L794.2 177.76 L794.4 177.76 L794.6 177.75 L794.8 177.75 L795 177.74 L795.2 177.74 L795.4 177.74 L795.6 177.73 L795.8 177.73 L796 177.72 L796.2 177.72 L796.4 177.72 L796.6 177.71 L796.8 177.71 L797 177.7 L797.2 177.7 L797.4 177.7 L797.6 177.69 L797.8 177.69 L798 177.68 L798.2 177.68 L798.4 177.68 L798.6 177.67 L798.8 177.67 L799 177.67 L799.2 177.66 L799.4 177.66 L799.6 177.65 L799.8 177.65 L800 177.65 L800.2 177.64 L800.4 177.64 L800.6 177.64 L800.8 177.63 L801 177.63 L801.2 177.63 L801.4 177.62 L801.6 177.62 L801.8 177.62 L802 177.61 L802.2 177.61 L802.4 177.61 L802.6 177.6 L802.8 177.6 L803 177.6 L803.2 177.59 L803.4 177.59 L803.6 177.59 L803.8 177.58 L804 177.58 L804.2 177.58 L804.4 177.57 L804.6 177.57 L804.8 177.57 L805 177.56 L805.2 177.56 L805.4 177.56 L805.6 177.55 L805.8 177.55 L806 177.55 L806.2 177.54 L806.4 177.54 L806.6 177.54 L806.8 177.54 L807 177.53 L807.2 177.53 L807.4 177.53 L807.6 177.52 L807.8 177.52 L808 177.52 L808.2 177.51 L808.4 177.51 L808.6 177.51 L808.8 177.51 L809 177.5 L809.2 177.5 L809.4 177.5 L809.6 177.49 L809.8 177.49 L810 177.49 L810.2 177.49 L810.4 177.48 L810.6 177.48 L810.8 177.48 L811 177.47 L811.2 177.47 L811.4 177.47 L811.6 177.47 L811.8 177.46 L812 177.46 L812.2 177.46 L812.4 177.46 L812.6 177.45 L812.8 177.45 L813 177.45 L813.2 177.45 L813.4 177.44 L813.6 177.44 L813.8 177.44 L814 177.44 L814.2 177.43 L814.4 177.43 L814.6 177.43 L814.8 177.43 L815 177.42 L815.2 177.42 L815.4 177.42 L815.6 177.42 L815.8 177.41 L816 177.41 L816.2 177.41 L816.4 177.41 L816.6 177.4 L816.8 177.4 L817 177.4 L817.2 177.4 L817.4 177.39 L817.6 177.39 L817.8 177.39 L818 177.39 L818.2 177.39 L818.4 177.38 L818.6 177.38 L818.8 177.38 L819 177.38 L819.2 177.37 L819.4 177.37 L819.6 177.37 L819.8 177.37 L820 177.37 L820.2 177.36 L820.4 177.36 L820.6 177.36 L820.8 177.36 L821 177.35 L821.2 177.35 L821.4 177.35 L821.6 177.35 L821.8 177.35 L822 177.34 L822.2 177.34 L822.4 177.34 L822.6 177.34 L822.8 177.34 L823 177.33 L823.2 177.33 L823.4 177.33 L823.6 177.33 L823.8 177.33 L824 177.32 L824.2 177.32 L824.4 177.32 L824.6 177.32 L824.8 177.32 L825 177.31 L825.2 177.31 L825.4 177.31 L825.6 177.31 L825.8 177.31 L826 177.31 L826.2 177.3 L826.4 177.3 L826.6 177.3 L826.8 177.3 L827 177.3 L827.2 177.29 L827.4 177.29 L827.6 177.29 L827.8 177.29 L828 177.29 L828.2 177.29 L828.4 177.28 L828.6 177.28 L828.8 177.28 L829 177.28 L829.2 177.28 L829.4 177.28 L829.6 177.27 L829.8 177.27 L830 177.27 L830.2 177.27 L830.4 177.27 L830.6 177.27 L830.8 177.26 L831 177.26 L831.2 177.26 L831.4 177.26 L831.6 177.26 L831.8 177.26 L832 177.25 L832.2 177.25 L832.4 177.25 L832.6 177.25 L832.8 177.25 L833 177.25 L833.2 177.24 L833.4 177.24 L833.6 177.24 L833.8 177.24 L834 177.24 L834.2 177.24 L834.4 177.24 L834.6 177.23 L834.8 177.23 L835 177.23 L835.2 177.23 L835.4 177.23 L835.6 177.23 L835.8 177.22 L836 177.22 L836.2 177.22 L836.4 177.22 L836.6 177.22 L836.8 177.22 L837 177.22 L837.2 177.21 L837.4 177.21 L837.6 177.21 L837.8 177.21 L838 177.21 L838.2 177.21 L838.4 177.21 L838.6 177.21 L838.8 177.2 L839 177.2 L839.2 177.2 L839.4 177.2 L839.6 177.2 L839.8 177.2 L840 177.2 L840.2 177.19 L840.4 177.19 L840.6 177.19 L840.8 177.19 L841 177.19 L841.2 177.19 L841.4 177.19 L841.6 177.19 L841.8 177.18 L842 177.18 L842.2 177.18 L842.4 177.18 L842.6 177.18 L842.8 177.18 L843 177.18 L843.2 177.18 L843.4 177.17 L843.6 177.17 L843.8 177.17 L844 177.17 L844.2 177.17 L844.4 177.17 L844.6 177.17 L844.8 177.17 L845 177.16 L845.2 177.16 L845.4 177.16 L845.6 177.16 L845.8 177.16 L846 177.16 L846.2 177.16 L846.4 177.16 L846.6 177.16 L846.8 177.15 L847 177.15 L847.2 177.15 L847.4 177.15 L847.6 177.15 L847.8 177.15 L848 177.15 L848.2 177.15 L848.4 177.15 L848.6 177.15 L848.8 177.14 L849 177.14 L849.2 177.14 L849.4 177.14 L849.6 177.14 L849.8 177.14 L850 177.14 L850.2 177.14 L850.4 177.14 L850.6 177.13 L850.8 177.13 L851 177.13 L851.2 177.13 L851.4 177.13 L851.6 177.13 L851.8 177.13 L852 177.13 L852.2 177.13 L852.4 177.13 L852.6 177.12 L852.8 177.12 L853 177.12 L853.2 177.12 L853.4 177.12 L853.6 177.12 L853.8 177.12 L854 177.12 L854.2 177.12 L854.4 177.12 L854.6 177.12 L854.8 177.11 L855 177.11 L855.2 177.11 L855.4 177.11 L855.6 177.11 L855.8 177.11 L856 177.11 L856.2 177.11 L856.4 177.11 L856.6 177.11 L856.8 177.11 L857 177.1 L857.2 177.1 L857.4 177.1 L857.6 177.1 L857.8 177.1 L858 177.1 L858.2 177.1 L858.4 177.1 L858.6 177.1 L858.8 177.1 L859 177.1 L859.2 177.1 L859.4 177.09 L859.6 177.09 L859.8 177.09 L860 177.09 L860.2 177.09 L860.4 177.09 L860.6 177.09 L860.8 177.09 L861 177.09 L861.2 177.09 L861.4 177.09 L861.6 177.09 L861.8 177.09 L862 177.08 L862.2 177.08 L862.4 177.08 L862.6 177.08 L862.8 177.08 L863 177.08 L863.2 177.08 L863.4 177.08 L863.6 177.08 L863.8 177.08 L864 177.08 L864.2 177.08 L864.4 177.08 L864.6 177.08 L864.8 177.07 L865 177.07 L865.2 177.07 L865.4 177.07 L865.6 177.07 L865.8 177.07 L866 177.07 L866.2 177.07 L866.4 177.07 L866.6 177.07 L866.8 177.07 L867 177.07 L867.2 177.07 L867.4 177.07 L867.6 177.06 L867.8 177.06 L868 177.06 L868.2 177.06 L868.4 177.06 L868.6 177.06 L868.8 177.06 L869 177.06 L869.2 177.06 L869.4 177.06 L869.6 177.06 L869.8 177.06 L870 177.06 L870.2 177.06 L870.4 177.06 L870.6 177.06 L870.8 177.05 L871 177.05 L871.2 177.05 L871.4 177.05 L871.6 177.05 L871.8 177.05 L872 177.05 L872.2 177.05 L872.4 177.05 L872.6 177.05 L872.8 177.05 L873 177.05 L873.2 177.05 L873.4 177.05 L873.6 177.05 L873.8 177.05 L874 177.05 L874.2 177.04 L874.4 177.04 L874.6 177.04 L874.8 177.04 L875 177.04 L875.2 177.04 L875.4 177.04 L875.6 177.04 L875.8 177.04 L876 177.04 L876.2 177.04 L876.4 177.04 L876.6 177.04 L876.8 177.04 L877 177.04 L877.2 177.04 L877.4 177.04 L877.6 177.04 L877.8 177.04 L878 177.03 L878.2 177.03 L878.4 177.03 L878.6 177.03 L878.8 177.03 L879 177.03 L879.2 177.03 L879.4 177.03 L879.6 177.03 L879.8 177.03 L880 177.03 L880.2 177.03 L880.4 177.03 L880.6 177.03 L880.8 177.03 L881 177.03 L881.2 177.03 L881.4 177.03 L881.6 177.03 L881.8 177.03 L882 177.02 L882.2 177.02 L882.4 177.02 L882.6 177.02 L882.8 177.02 L883 177.02 L883.2 177.02 L883.4 177.02 L883.6 177.02 L883.8 177.02 L884 177.02 L884.2 177.02 L884.4 177.02 L884.6 177.02 L884.8 177.02 L885 177.02 L885.2 177.02 L885.4 177.02 L885.6 177.02 L885.8 177.02 L886 177.02 L886.2 177.02 L886.4 177.02 L886.6 177.01 L886.8 177.01 L887 177.01 L887.2 177.01 L887.4 177.01 L887.6 177.01 L887.8 177.01 L888 177.01 L888.2 177.01 L888.4 177.01 L888.6 177.01 L888.8 177.01 L889 177.01 L889.2 177.01 L889.4 177.01 L889.6 177.01 L889.8 177.01 L890 177.01 L890.2 177.01 L890.4 177.01 L890.6 177.01 L890.8 177.01 L891 177.01 L891.2 177.01 L891.4 177.01 L891.6 177.01 L891.8 177 L892 177 L892.2 177 L892.4 177 L892.6 177 L892.8 177 L893 177 L893.2 177 L893.4 177 L893.6 177 L893.8 177 L894 177 L894.2 177 L894.4 177 L894.6 177 L894.8 177 L895 177 L895.2 177 L895.4 177 L895.6 177 L895.8 177 L896 177 L896.2 177 L896.4 177 L896.6 177 L896.8 177 L897 177 L897.2 177 L897.4 177 L897.6 176.99 L897.8 176.99 L898 176.99 L898.2 176.99 L898.4 176.99 L898.6 176.99 L898.8 176.99 L899 176.99 L899.2 176.99 L899.4 176.99 L899.6 176.99 L899.8 176.99 L900 176.99 L900.2 176.99 L900.4 176.99 L900.6 176.99 L900.8 176.99 L901 176.99 L901.2 176.99 L901.4 176.99 L901.6 176.99 L901.8 176.99 L902 176.99 L902.2 176.99 L902.4 176.99 L902.6 176.99 L902.8 176.99 L903 176.99 L903.2 176.99 L903.4 176.99 L903.6 176.99 L903.8 176.99 L904 176.99 L904.2 176.99 L904.4 176.98 L904.6 176.98 L904.8 176.98 L905 176.98 L905.2 176.98 L905.4 176.98 L905.6 176.98 L905.8 176.98 L906 176.98 L906.2 176.98 L906.4 176.98 L906.6 176.98 L906.8 176.98 L907 176.98 L907.2 176.98 L907.4 176.98 L907.6 176.98 L907.8 176.98 L908 176.98 L908.2 176.98 L908.4 176.98 L908.6 176.98 L908.8 176.98 L909 176.98 L909.2 176.98 L909.4 176.98 L909.6 176.98 L909.8 176.98 L910 176.98 L910.2 176.98 L910.4 176.98 L910.6 176.98 L910.8 176.98 L911 176.98 L911.2 176.98 L911.4 176.98 L911.6 176.98 L911.8 176.98 L912 176.98 L912.2 176.98 L912.4 176.98 L912.6 176.97 L912.8 176.97 L913 176.97 L913.2 176.97 L913.4 176.97 L913.6 176.97 L913.8 176.97 L914 176.97 L914.2 176.97 L914.4 176.97 L914.6 176.97 L914.8 176.97 L915 176.97 L915.2 176.97 L915.4 176.97 L915.6 176.97 L915.8 176.97 L916 176.97 L916.2 176.97 L916.4 176.97 L916.6 176.97 L916.8 176.97 L917 176.97 L917.2 176.97 L917.4 176.97 L917.6 176.97 L917.8 176.97 L918 176.97 L918.2 176.97 L918.4 176.97 L918.6 176.97 L918.8 176.97 L919 176.97 L919.2 176.97 L919.4 176.97 L919.6 176.97 L919.8 176.97 L920 176.97 L920.2 176.97 L920.4 176.97 L920.6 176.97 L920.8 176.97 L921 176.97 L921.2 176.97 L921.4 176.97 L921.6 176.97 L921.8 176.97 L922 176.97 L922.2 176.97 L922.4 176.97 L922.6 176.97 L922.8 176.97 L923 176.96 L923.2 176.96 L923.4 176.96 L923.6 176.96 L923.8 176.96 L924 176.96 L924.2 176.96 L924.4 176.96 L924.6 176.96 L924.8 176.96 L925 176.96 L925.2 176.96 L925.4 176.96 L925.6 176.96 L925.8 176.96 L926 176.96 L926.2 176.96 L926.4 176.96 L926.6 176.96 L926.8 176.96 L927 176.96 L927.2 176.96 L927.4 176.96 L927.6 176.96 L927.8 176.96 L928 176.96 L928.2 176.96 L928.4 176.96 L928.6 176.96 L928.8 176.96 L929 176.96 L929.2 176.96 L929.4 176.96 L929.6 176.96 L929.8 176.96 L930 176.96 L930.2 176.96 L930.4 176.96 L930.6 176.96 L930.8 176.96 L931 176.96 L931.2 176.96 L931.4 176.96 L931.6 176.96 L931.8 176.96 L932 176.96 L932.2 176.96 L932.4 176.96 L932.6 176.96 L932.8 176.96 L933 176.96 L933.2 176.96 L933.4 176.96 L933.6 176.96 L933.8 176.96 L934 176.96 L934.2 176.96 L934.4 176.96 L934.6 176.96 L934.8 176.96 L935 176.96 L935.2 176.96 L935.4 176.96 L935.6 176.96 L935.8 176.96 L936 176.96 L936.2 176.96 L936.4 176.96 L936.6 176.96 L936.8 176.95 L937 176.95 L937.2 176.95 L937.4 176.95 L937.6 176.95 L937.8 176.95 L938 176.95 L938.2 176.95 L938.4 176.95 L938.6 176.95 L938.8 176.95 L939 176.95 L939.2 176.95 L939.4 176.95 L939.6 176.95 L939.8 176.95 L940 176.95 L940.2 176.95 L940.4 176.95 L940.6 176.95 L940.8 176.95 L941 176.95 L941.2 176.95 L941.4 176.95 L941.6 176.95 L941.8 176.95 L942 176.95 L942.2 176.95 L942.4 176.95 L942.6 176.95 L942.8 176.95 L943 176.95 L943.2 176.95 L943.4 176.95 L943.6 176.95 L943.8 176.95 L944 176.95 L944.2 176.95 L944.4 176.95 L944.6 176.95 L944.8 176.95 L945 176.95 L945.2 176.95 L945.4 176.95 L945.6 176.95 L945.8 176.95 L946 176.95 L946.2 176.95 L946.4 176.95 L946.6 176.95 L946.8 176.95 L947 176.95 L947.2 176.95 L947.4 176.95 L947.6 176.95 L947.8 176.95 L948 176.95 L948.2 176.95 L948.4 176.95 L948.6 176.95 L948.8 176.95 L949 176.95 L949.2 176.95 L949.4 176.95 L949.6 176.95 L949.8 176.95 L950 176.95 L950.2 176.95 L950.4 176.95 L950.6 176.95 L950.8 176.95 L951 176.95 L951.2 176.95 L951.4 176.95 L951.6 176.95 L951.8 176.95 L952 176.95 L952.2 176.95 L952.4 176.95 L952.6 176.95 L952.8 176.95 L953 176.95 L953.2 176.95 L953.4 176.95 L953.6 176.95 L953.8 176.95 L954 176.95 L954.2 176.95 L954.4 176.95 L954.6 176.95 L954.8 176.95 L955 176.95 L955.2 176.95 L955.4 176.95 L955.6 176.95 L955.8 176.95 L956 176.95 L956.2 176.95 L956.4 176.95 L956.6 176.95 L956.8 176.95 L957 176.95 L957.2 176.95 L957.4 176.95 L957.6 176.94 L957.8 176.94 L958 176.94 L958.2 176.94 L958.4 176.94 L958.6 176.94 L958.8 176.94 L959 176.94 L959.2 176.94 L959.4 176.94 L959.6 176.94 L959.8 176.94 L960 176.94 L960.2 176.94 L960.4 176.94 L960.6 176.94 L960.8 176.94 L961 176.94 L961.2 176.94 L961.4 176.94 L961.6 176.94 L961.8 176.94 L962 176.94 L962.2 176.94 L962.4 176.94 L962.6 176.94 L962.8 176.94 L963 176.94 L963.2 176.94 L963.4 176.94 L963.6 176.94 L963.8 176.94 L964 176.94 L964.2 176.94 L964.4 176.94 L964.6 176.94 L964.8 176.94 L965 176.94 L965.2 176.94 L965.4 176.94 L965.6 176.94 L965.8 176.94 L966 176.94 L966.2 176.94 L966.4 176.94 L966.6 176.94 L966.8 176.94 L967 176.94 L967.2 176.94 L967.4 176.94 L967.6 176.94 L967.8 176.94 L968 176.94 L968.2 176.94 L968.4 176.94 L968.6 176.94 L968.8 176.94 L969 176.94 L969.2 176.94 L969.4 176.94 L969.6 176.94 L969.8 176.94 L970 176.94 L970.2 176.94 L970.4 176.94 L970.6 176.94 L970.8 176.94 L971 176.94 L971.2 176.94 L971.4 176.94 L971.6 176.94 L971.8 176.94 L972 176.94 L972.2 176.94 L972.4 176.94 L972.6 176.94 L972.8 176.94 L973 176.94 L973.2 176.94 L973.4 176.94 L973.6 176.94 L973.8 176.94 L974 176.94 L974.2 176.94 L974.4 176.94" fill="none" stroke="#04679b" stroke-width="2.75" stroke-linejoin="round"/>
<line x1="561.6" y1="155.35" x2="974" y2="155.35" stroke="#000" stroke-width="2.75" stroke-dasharray="10 10.3"/>
</g>
<line x1="563.6" y1="175.65" x2="976.7" y2="175.65" stroke="#000" stroke-width="2.75"/>
<rect x="563.6" y="43.5" width="410.4" height="242.6" fill="none" stroke="#000" stroke-width="2.5"/>
<line x1="550.2" y1="43.5" x2="563.6" y2="43.5" stroke="#000" stroke-width="2.5"/>
<line x1="550.2" y1="164.8" x2="563.6" y2="164.8" stroke="#000" stroke-width="2.5"/>
<line x1="550.2" y1="286.1" x2="563.6" y2="286.1" stroke="#000" stroke-width="2.5"/>
<line x1="563.6" y1="286.1" x2="563.6" y2="299.5" stroke="#000" stroke-width="2.5"/>
<line x1="653.4" y1="286.1" x2="653.4" y2="299.5" stroke="#000" stroke-width="2.5"/>
<line x1="974" y1="286.1" x2="974" y2="299.5" stroke="#000" stroke-width="2.5"/>
<g clip-path="url(#c2)">
<path d="M1019.2 163.1 L1019.4 162.98 L1019.6 162.87 L1019.8 162.75 L1020 162.63 L1020.2 162.51 L1020.4 162.39 L1020.6 162.27 L1020.8 162.15 L1021 162.03 L1021.2 161.91 L1021.4 161.79 L1021.6 161.67 L1021.8 161.55 L1022 161.43 L1022.2 161.31 L1022.4 161.19 L1022.6 161.07 L1022.8 160.95 L1023 160.82 L1023.2 160.7 L1023.4 160.58 L1023.6 160.46 L1023.8 160.34 L1024 160.22 L1024.2 160.09 L1024.4 159.97 L1024.6 159.85 L1024.8 159.72 L1025 159.6 L1025.2 159.48 L1025.4 159.35 L1025.6 159.23 L1025.8 159.1 L1026 158.98 L1026.2 158.85 L1026.4 158.73 L1026.6 158.6 L1026.8 158.48 L1027 158.35 L1027.2 158.22 L1027.4 158.1 L1027.6 157.97 L1027.8 157.84 L1028 157.71 L1028.2 157.58 L1028.4 157.45 L1028.6 157.33 L1028.8 157.2 L1029 157.07 L1029.2 156.94 L1029.4 156.8 L1029.6 156.67 L1029.8 156.54 L1030 156.41 L1030.2 156.28 L1030.4 156.14 L1030.6 156.01 L1030.8 155.88 L1031 155.74 L1031.2 155.61 L1031.4 155.47 L1031.6 155.34 L1031.8 155.2 L1032 155.06 L1032.2 154.92 L1032.4 154.79 L1032.6 154.65 L1032.8 154.51 L1033 154.37 L1033.2 154.23 L1033.4 154.09 L1033.6 153.95 L1033.8 153.8 L1034 153.66 L1034.2 153.52 L1034.4 153.37 L1034.6 153.23 L1034.8 153.08 L1035 152.94 L1035.2 152.79 L1035.4 152.64 L1035.6 152.49 L1035.8 152.35 L1036 152.2 L1036.2 152.04 L1036.4 151.89 L1036.6 151.74 L1036.8 151.59 L1037 151.43 L1037.2 151.28 L1037.4 151.12 L1037.6 150.97 L1037.8 150.81 L1038 150.65 L1038.2 150.49 L1038.4 150.33 L1038.6 150.17 L1038.8 150.01 L1039 149.85 L1039.2 149.69 L1039.4 149.52 L1039.6 149.36 L1039.8 149.19 L1040 149.02 L1040.2 148.85 L1040.4 148.68 L1040.6 148.51 L1040.8 148.34 L1041 148.17 L1041.2 147.99 L1041.4 147.82 L1041.6 147.64 L1041.8 147.46 L1042 147.28 L1042.2 147.1 L1042.4 146.92 L1042.6 146.74 L1042.8 146.55 L1043 146.37 L1043.2 146.18 L1043.4 145.99 L1043.6 145.8 L1043.8 145.61 L1044 145.42 L1044.2 145.22 L1044.4 145.03 L1044.6 144.83 L1044.8 144.63 L1045 144.43 L1045.2 144.23 L1045.4 144.02 L1045.6 143.82 L1045.8 143.61 L1046 143.4 L1046.2 143.19 L1046.4 142.98 L1046.6 142.76 L1046.8 142.54 L1047 142.33 L1047.2 142.1 L1047.4 141.88 L1047.6 141.66 L1047.8 141.43 L1048 141.2 L1048.2 140.97 L1048.4 140.74 L1048.6 140.5 L1048.8 140.26 L1049 140.02 L1049.2 139.78 L1049.4 139.53 L1049.6 139.29 L1049.8 139.04 L1050 138.78 L1050.2 138.53 L1050.4 138.27 L1050.6 138.01 L1050.8 137.75 L1051 137.48 L1051.2 137.21 L1051.4 136.94 L1051.6 136.66 L1051.8 136.38 L1052 136.1 L1052.2 135.81 L1052.4 135.53 L1052.6 135.23 L1052.8 134.94 L1053 134.64 L1053.2 134.34 L1053.4 134.03 L1053.6 133.72 L1053.8 133.41 L1054 133.09 L1054.2 132.76 L1054.4 132.44 L1054.6 132.11 L1054.8 131.77 L1055 131.43 L1055.2 131.09 L1055.4 130.74 L1055.6 130.39 L1055.8 130.03 L1056 129.66 L1056.2 129.29 L1056.4 128.92 L1056.6 128.54 L1056.8 128.16 L1057 127.77 L1057.2 127.37 L1057.4 126.97 L1057.6 126.56 L1057.8 126.14 L1058 125.72 L1058.2 125.29 L1058.4 124.86 L1058.6 124.41 L1058.8 123.96 L1059 123.51 L1059.2 123.04 L1059.4 122.57 L1059.6 122.09 L1059.8 121.6 L1060 121.1 L1060.2 120.6 L1060.4 120.08 L1060.6 119.56 L1060.8 119.02 L1061 118.48 L1061.2 117.92 L1061.4 117.36 L1061.6 116.78 L1061.8 116.2 L1062 115.6 L1062.2 114.99 L1062.4 114.36 L1062.6 113.73 L1062.8 113.08 L1063 112.42 L1063.2 111.74 L1063.4 111.05 L1063.6 110.34 L1063.8 109.62 L1064 108.88 L1064.2 108.13 L1064.4 107.36 L1064.6 106.57 L1064.8 105.76 L1065 104.93 L1065.2 104.08 L1065.4 103.21 L1065.6 102.32 L1065.8 101.41 L1066 100.47 L1066.2 99.51 L1066.4 98.52 L1066.6 97.51 L1066.8 96.46 L1067 95.39 L1067.2 94.29 L1067.4 93.16 L1067.6 91.99 L1067.8 90.79 L1068 89.56 L1068.2 88.28 L1068.4 86.97 L1068.6 85.61 L1068.8 84.21 L1069 82.76 L1069.2 81.27 L1069.4 79.72 L1069.6 78.12 L1069.8 76.47 L1070 74.75 L1070.2 72.97 L1070.4 71.12 L1070.6 69.21 L1070.8 67.22 L1071 65.14 L1071.2 62.99 L1071.4 60.74 L1071.6 58.4 L1071.8 55.95 L1072 53.4 L1072.2 50.73 L1072.4 47.93 L1072.6 45 L1072.8 41.93 L1073 38.7 L1073.2 35.3 L1073.4 31.72 L1073.6 27.94 L1073.8 23.95 L1074 19.73 L1074.2 15.25 L1074.4 10.5 L1074.6 5.44 L1074.8 0.05 L1075 -5.72 L1075.2 -11.89 L1075.4 -18.51 L1075.6 -25.64 L1075.8 -33.34 L1076 -41.68 L1076.2 -50.73 L1076.4 -60.61 L1076.6 -71.43 L1076.8 -83.32 L1077 -96.46 L1077.2 -111.05" fill="none" stroke="#04679b" stroke-width="2.75" stroke-linejoin="round"/>
<path d="M1085.3 446.07 L1085.5 430.79 L1085.7 417.07 L1085.9 404.69 L1086.1 393.46 L1086.3 383.22 L1086.5 373.84 L1086.7 365.23 L1086.9 357.29 L1087.1 349.95 L1087.3 343.14 L1087.5 336.81 L1087.7 330.9 L1087.9 325.37 L1088.1 320.2 L1088.3 315.34 L1088.5 310.76 L1088.7 306.45 L1088.9 302.39 L1089.1 298.54 L1089.3 294.89 L1089.5 291.43 L1089.7 288.15 L1089.9 285.02 L1090.1 282.05 L1090.3 279.21 L1090.5 276.5 L1090.7 273.91 L1090.9 271.44 L1091.1 269.06 L1091.3 266.79 L1091.5 264.61 L1091.7 262.51 L1091.9 260.5 L1092.1 258.56 L1092.3 256.69 L1092.5 254.9 L1092.7 253.16 L1092.9 251.49 L1093.1 249.88 L1093.3 248.32 L1093.5 246.81 L1093.7 245.35 L1093.9 243.94 L1094.1 242.58 L1094.3 241.25 L1094.5 239.97 L1094.7 238.72 L1094.9 237.51 L1095.1 236.34 L1095.3 235.2 L1095.5 234.09 L1095.7 233.01 L1095.9 231.97 L1096.1 230.95 L1096.3 229.95 L1096.5 228.99 L1096.7 228.05 L1096.9 227.13 L1097.1 226.23 L1097.3 225.36 L1097.5 224.51 L1097.7 223.68 L1097.9 222.86 L1098.1 222.07 L1098.3 221.3 L1098.5 220.54 L1098.7 219.8 L1098.9 219.07 L1099.1 218.36 L1099.3 217.67 L1099.5 216.99 L1099.7 216.33 L1099.9 215.68 L1100.1 215.04 L1100.3 214.42 L1100.5 213.8 L1100.7 213.2 L1100.9 212.62 L1101.1 212.04 L1101.3 211.47 L1101.5 210.92 L1101.7 210.37 L1101.9 209.84 L1102.1 209.31 L1102.3 208.8 L1102.5 208.29 L1102.7 207.79 L1102.9 207.3 L1103.1 206.82 L1103.3 206.35 L1103.5 205.88 L1103.7 205.42 L1103.9 204.97 L1104.1 204.53 L1104.3 204.1 L1104.5 203.67 L1104.7 203.24 L1104.9 202.83 L1105.1 202.42 L1105.3 202.02 L1105.5 201.62 L1105.7 201.23 L1105.9 200.84 L1106.1 200.46 L1106.3 200.09 L1106.5 199.72 L1106.7 199.36 L1106.9 199 L1107.1 198.64 L1107.3 198.29 L1107.5 197.95 L1107.7 197.61 L1107.9 197.28 L1108.1 196.94 L1108.3 196.62 L1108.5 196.3 L1108.7 195.98 L1108.9 195.66 L1109.1 195.35 L1109.3 195.05 L1109.5 194.74 L1109.7 194.44 L1109.9 194.15 L1110.1 193.86 L1110.3 193.57 L1110.5 193.28 L1110.7 193 L1110.9 192.72 L1111.1 192.45 L1111.3 192.17 L1111.5 191.9 L1111.7 191.64 L1111.9 191.37 L1112.1 191.11 L1112.3 190.85 L1112.5 190.6 L1112.7 190.35 L1112.9 190.1 L1113.1 189.85 L1113.3 189.6 L1113.5 189.36 L1113.7 189.12 L1113.9 188.88 L1114.1 188.65 L1114.3 188.41 L1114.5 188.18 L1114.7 187.95 L1114.9 187.73 L1115.1 187.5 L1115.3 187.28 L1115.5 187.06 L1115.7 186.84 L1115.9 186.62 L1116.1 186.41 L1116.3 186.19 L1116.5 185.98 L1116.7 185.77 L1116.9 185.57 L1117.1 185.36 L1117.3 185.16 L1117.5 184.95 L1117.7 184.75 L1117.9 184.55 L1118.1 184.36 L1118.3 184.16 L1118.5 183.97 L1118.7 183.77 L1118.9 183.58 L1119.1 183.39 L1119.3 183.2 L1119.5 183.02 L1119.7 182.83 L1119.9 182.65 L1120.1 182.46 L1120.3 182.28 L1120.5 182.1 L1120.7 181.92 L1120.9 181.74 L1121.1 181.57 L1121.3 181.39 L1121.5 181.22 L1121.7 181.04 L1121.9 180.87 L1122.1 180.7 L1122.3 180.53 L1122.5 180.36 L1122.7 180.19 L1122.9 180.03 L1123.1 179.86 L1123.3 179.7 L1123.5 179.53 L1123.7 179.37 L1123.9 179.21 L1124.1 179.05 L1124.3 178.89 L1124.5 178.73 L1124.7 178.57 L1124.9 178.41 L1125.1 178.26 L1125.3 178.1 L1125.5 177.95 L1125.7 177.79 L1125.9 177.64 L1126.1 177.49 L1126.3 177.33 L1126.5 177.18 L1126.7 177.03 L1126.9 176.88 L1127.1 176.74 L1127.3 176.59 L1127.5 176.44 L1127.7 176.29 L1127.9 176.15 L1128.1 176 L1128.3 175.86 L1128.5 175.72 L1128.7 175.57 L1128.9 175.43 L1129.1 175.29 L1129.3 175.15 L1129.5 175.01 L1129.7 174.87 L1129.9 174.73 L1130.1 174.59 L1130.3 174.45 L1130.5 174.31 L1130.7 174.17 L1130.9 174.04 L1131.1 173.9 L1131.3 173.77 L1131.5 173.63 L1131.7 173.5 L1131.9 173.36 L1132.1 173.23 L1132.3 173.09 L1132.5 172.96 L1132.7 172.83 L1132.9 172.7 L1133.1 172.56 L1133.3 172.43 L1133.5 172.3 L1133.7 172.17 L1133.9 172.04 L1134.1 171.91 L1134.3 171.78 L1134.5 171.65 L1134.7 171.52 L1134.9 171.4 L1135.1 171.27 L1135.3 171.14 L1135.5 171.01 L1135.7 170.89 L1135.9 170.76 L1136.1 170.63 L1136.3 170.51 L1136.5 170.38 L1136.7 170.26 L1136.9 170.13 L1137.1 170.01 L1137.3 169.88 L1137.5 169.76 L1137.7 169.63 L1137.9 169.51 L1138.1 169.39 L1138.3 169.26 L1138.5 169.14 L1138.7 169.02 L1138.9 168.89 L1139.1 168.77 L1139.3 168.65 L1139.5 168.53 L1139.7 168.4 L1139.9 168.28 L1140.1 168.16 L1140.3 168.04 L1140.5 167.92 L1140.7 167.8 L1140.9 167.68 L1141.1 167.56 L1141.3 167.43 L1141.5 167.31 L1141.7 167.19 L1141.9 167.07 L1142.1 166.95 L1142.3 166.83 L1142.5 166.71 L1142.7 166.59 L1142.9 166.47 L1143.1 166.35 L1143.3 166.23 L1143.5 166.11 L1143.7 165.99 L1143.9 165.87 L1144.1 165.75 L1144.3 165.64 L1144.5 165.52 L1144.7 165.4 L1144.9 165.28 L1145.1 165.16 L1145.3 165.04 L1145.5 164.92 L1145.7 164.8 L1145.9 164.68 L1146.1 164.56 L1146.3 164.44 L1146.5 164.32 L1146.7 164.2 L1146.9 164.08 L1147.1 163.96 L1147.3 163.85 L1147.5 163.73 L1147.7 163.61 L1147.9 163.49 L1148.1 163.37 L1148.3 163.25 L1148.5 163.13 L1148.7 163.01 L1148.9 162.89 L1149.1 162.77 L1149.3 162.65 L1149.5 162.53 L1149.7 162.41 L1149.9 162.29 L1150.1 162.17 L1150.3 162.04 L1150.5 161.92 L1150.7 161.8 L1150.9 161.68 L1151.1 161.56 L1151.3 161.44 L1151.5 161.32 L1151.7 161.2 L1151.9 161.07 L1152.1 160.95 L1152.3 160.83 L1152.5 160.71 L1152.7 160.58 L1152.9 160.46 L1153.1 160.34 L1153.3 160.21 L1153.5 160.09 L1153.7 159.97 L1153.9 159.84 L1154.1 159.72 L1154.3 159.59 L1154.5 159.47 L1154.7 159.34 L1154.9 159.22 L1155.1 159.09 L1155.3 158.97 L1155.5 158.84 L1155.7 158.71 L1155.9 158.59 L1156.1 158.46 L1156.3 158.33 L1156.5 158.2 L1156.7 158.08 L1156.9 157.95 L1157.1 157.82 L1157.3 157.69 L1157.5 157.56 L1157.7 157.43 L1157.9 157.3 L1158.1 157.17 L1158.3 157.04 L1158.5 156.9 L1158.7 156.77 L1158.9 156.64 L1159.1 156.51 L1159.3 156.37 L1159.5 156.24 L1159.7 156.1 L1159.9 155.97 L1160.1 155.83 L1160.3 155.7 L1160.5 155.56 L1160.7 155.43 L1160.9 155.29 L1161.1 155.15 L1161.3 155.01 L1161.5 154.87 L1161.7 154.73 L1161.9 154.59 L1162.1 154.45 L1162.3 154.31 L1162.5 154.17 L1162.7 154.03 L1162.9 153.88 L1163.1 153.74 L1163.3 153.6 L1163.5 153.45 L1163.7 153.31 L1163.9 153.16 L1164.1 153.01 L1164.3 152.86 L1164.5 152.72 L1164.7 152.57 L1164.9 152.42 L1165.1 152.27 L1165.3 152.11 L1165.5 151.96 L1165.7 151.81 L1165.9 151.65 L1166.1 151.5 L1166.3 151.34 L1166.5 151.19 L1166.7 151.03 L1166.9 150.87 L1167.1 150.71 L1167.3 150.55 L1167.5 150.39 L1167.7 150.23 L1167.9 150.07 L1168.1 149.9 L1168.3 149.74 L1168.5 149.57 L1168.7 149.41 L1168.9 149.24 L1169.1 149.07 L1169.3 148.9 L1169.5 148.73 L1169.7 148.56 L1169.9 148.38 L1170.1 148.21 L1170.3 148.03 L1170.5 147.86 L1170.7 147.68 L1170.9 147.5 L1171.1 147.32 L1171.3 147.14 L1171.5 146.95 L1171.7 146.77 L1171.9 146.58 L1172.1 146.4 L1172.3 146.21 L1172.5 146.02 L1172.7 145.83 L1172.9 145.63 L1173.1 145.44 L1173.3 145.24 L1173.5 145.05 L1173.7 144.85 L1173.9 144.65 L1174.1 144.44 L1174.3 144.24 L1174.5 144.03 L1174.7 143.83 L1174.9 143.62 L1175.1 143.41 L1175.3 143.19 L1175.5 142.98 L1175.7 142.76 L1175.9 142.54 L1176.1 142.32 L1176.3 142.1 L1176.5 141.87 L1176.7 141.65 L1176.9 141.42 L1177.1 141.19 L1177.3 140.95 L1177.5 140.72 L1177.7 140.48 L1177.9 140.24 L1178.1 140 L1178.3 139.75 L1178.5 139.5 L1178.7 139.25 L1178.9 139 L1179.1 138.75 L1179.3 138.49 L1179.5 138.23 L1179.7 137.96 L1179.9 137.7 L1180.1 137.43 L1180.3 137.15 L1180.5 136.88 L1180.7 136.6 L1180.9 136.32 L1181.1 136.03 L1181.3 135.74 L1181.5 135.45 L1181.7 135.16 L1181.9 134.86 L1182.1 134.55 L1182.3 134.25 L1182.5 133.94 L1182.7 133.62 L1182.9 133.3 L1183.1 132.98 L1183.3 132.66 L1183.5 132.32 L1183.7 131.99 L1183.9 131.65 L1184.1 131.31 L1184.3 130.96 L1184.5 130.6 L1184.7 130.24 L1184.9 129.88 L1185.1 129.51 L1185.3 129.14 L1185.5 128.76 L1185.7 128.37 L1185.9 127.98 L1186.1 127.58 L1186.3 127.18 L1186.5 126.77 L1186.7 126.36 L1186.9 125.93 L1187.1 125.5 L1187.3 125.07 L1187.5 124.63 L1187.7 124.18 L1187.9 123.72 L1188.1 123.25 L1188.3 122.78 L1188.5 122.3 L1188.7 121.81 L1188.9 121.31 L1189.1 120.8 L1189.3 120.29 L1189.5 119.76 L1189.7 119.23 L1189.9 118.68 L1190.1 118.13 L1190.3 117.56 L1190.5 116.98 L1190.7 116.4 L1190.9 115.8 L1191.1 115.18 L1191.3 114.56 L1191.5 113.92 L1191.7 113.27 L1191.9 112.61 L1192.1 111.93 L1192.3 111.24 L1192.5 110.53 L1192.7 109.8 L1192.9 109.06 L1193.1 108.3 L1193.3 107.53 L1193.5 106.74 L1193.7 105.92 L1193.9 105.09 L1194.1 104.24 L1194.3 103.37 L1194.5 102.47 L1194.7 101.55 L1194.9 100.61 L1195.1 99.65 L1195.3 98.65 L1195.5 97.63 L1195.7 96.59 L1195.9 95.51 L1196.1 94.4 L1196.3 93.26 L1196.5 92.09 L1196.7 90.88 L1196.9 89.63 L1197.1 88.35 L1197.3 87.02 L1197.5 85.66 L1197.7 84.25 L1197.9 82.79 L1198.1 81.28 L1198.3 79.72 L1198.5 78.11 L1198.7 76.44 L1198.9 74.7 L1199.1 72.91 L1199.3 71.04 L1199.5 69.1 L1199.7 67.09 L1199.9 64.99 L1200.1 62.81 L1200.3 60.54 L1200.5 58.16 L1200.7 55.69 L1200.9 53.1 L1201.1 50.39 L1201.3 47.55 L1201.5 44.58 L1201.7 41.45 L1201.9 38.17 L1202.1 34.71 L1202.3 31.06 L1202.5 27.21 L1202.7 23.15 L1202.9 18.84 L1203.1 14.26 L1203.3 9.4 L1203.5 4.23 L1203.7 -1.3 L1203.9 -7.21 L1204.1 -13.54 L1204.3 -20.35 L1204.5 -27.69 L1204.7 -35.63 L1204.9 -44.24 L1205.1 -53.62 L1205.3 -63.86 L1205.5 -75.09 L1205.7 -87.47 L1205.9 -101.19 L1206.1 -116.47" fill="none" stroke="#04679b" stroke-width="2.75" stroke-linejoin="round"/>
<path d="M1212.9 446.07 L1213.1 430.79 L1213.3 417.07 L1213.5 404.69 L1213.7 393.46 L1213.9 383.22 L1214.1 373.84 L1214.3 365.23 L1214.5 357.29 L1214.7 349.95 L1214.9 343.14 L1215.1 336.81 L1215.3 330.9 L1215.5 325.37 L1215.7 320.2 L1215.9 315.34 L1216.1 310.76 L1216.3 306.45 L1216.5 302.39 L1216.7 298.54 L1216.9 294.89 L1217.1 291.43 L1217.3 288.15 L1217.5 285.02 L1217.7 282.05 L1217.9 279.21 L1218.1 276.5 L1218.3 273.91 L1218.5 271.44 L1218.7 269.06 L1218.9 266.79 L1219.1 264.61 L1219.3 262.51 L1219.5 260.5 L1219.7 258.56 L1219.9 256.69 L1220.1 254.9 L1220.3 253.16 L1220.5 251.49 L1220.7 249.88 L1220.9 248.32 L1221.1 246.81 L1221.3 245.35 L1221.5 243.94 L1221.7 242.58 L1221.9 241.25 L1222.1 239.97 L1222.3 238.72 L1222.5 237.51 L1222.7 236.34 L1222.9 235.2 L1223.1 234.09 L1223.3 233.01 L1223.5 231.97 L1223.7 230.95 L1223.9 229.95 L1224.1 228.99 L1224.3 228.05 L1224.5 227.13 L1224.7 226.23 L1224.9 225.36 L1225.1 224.51 L1225.3 223.68 L1225.5 222.86 L1225.7 222.07 L1225.9 221.3 L1226.1 220.54 L1226.3 219.8 L1226.5 219.07 L1226.7 218.36 L1226.9 217.67 L1227.1 216.99 L1227.3 216.33 L1227.5 215.68 L1227.7 215.04 L1227.9 214.42 L1228.1 213.8 L1228.3 213.2 L1228.5 212.62 L1228.7 212.04 L1228.9 211.47 L1229.1 210.92 L1229.3 210.37 L1229.5 209.84 L1229.7 209.31 L1229.9 208.8 L1230.1 208.29 L1230.3 207.79 L1230.5 207.3 L1230.7 206.82 L1230.9 206.35 L1231.1 205.88 L1231.3 205.42 L1231.5 204.97 L1231.7 204.53 L1231.9 204.1 L1232.1 203.67 L1232.3 203.24 L1232.5 202.83 L1232.7 202.42 L1232.9 202.02 L1233.1 201.62 L1233.3 201.23 L1233.5 200.84 L1233.7 200.46 L1233.9 200.09 L1234.1 199.72 L1234.3 199.36 L1234.5 199 L1234.7 198.64 L1234.9 198.29 L1235.1 197.95 L1235.3 197.61 L1235.5 197.28 L1235.7 196.94 L1235.9 196.62 L1236.1 196.3 L1236.3 195.98 L1236.5 195.66 L1236.7 195.35 L1236.9 195.05 L1237.1 194.74 L1237.3 194.44 L1237.5 194.15 L1237.7 193.86 L1237.9 193.57 L1238.1 193.28 L1238.3 193 L1238.5 192.72 L1238.7 192.45 L1238.9 192.17 L1239.1 191.9 L1239.3 191.64 L1239.5 191.37 L1239.7 191.11 L1239.9 190.85 L1240.1 190.6 L1240.3 190.35 L1240.5 190.1 L1240.7 189.85 L1240.9 189.6 L1241.1 189.36 L1241.3 189.12 L1241.5 188.88 L1241.7 188.65 L1241.9 188.41 L1242.1 188.18 L1242.3 187.95 L1242.5 187.73 L1242.7 187.5 L1242.9 187.28 L1243.1 187.06 L1243.3 186.84 L1243.5 186.62 L1243.7 186.41 L1243.9 186.19 L1244.1 185.98 L1244.3 185.77 L1244.5 185.57 L1244.7 185.36 L1244.9 185.16 L1245.1 184.95 L1245.3 184.75 L1245.5 184.55 L1245.7 184.36 L1245.9 184.16 L1246.1 183.97 L1246.3 183.77 L1246.5 183.58 L1246.7 183.39 L1246.9 183.2 L1247.1 183.02 L1247.3 182.83 L1247.5 182.65 L1247.7 182.46 L1247.9 182.28 L1248.1 182.1 L1248.3 181.92 L1248.5 181.74 L1248.7 181.57 L1248.9 181.39 L1249.1 181.22 L1249.3 181.04 L1249.5 180.87 L1249.7 180.7 L1249.9 180.53 L1250.1 180.36 L1250.3 180.19 L1250.5 180.03 L1250.7 179.86 L1250.9 179.7 L1251.1 179.53 L1251.3 179.37 L1251.5 179.21 L1251.7 179.05 L1251.9 178.89 L1252.1 178.73 L1252.3 178.57 L1252.5 178.41 L1252.7 178.26 L1252.9 178.1 L1253.1 177.95 L1253.3 177.79 L1253.5 177.64 L1253.7 177.49 L1253.9 177.33 L1254.1 177.18 L1254.3 177.03 L1254.5 176.88 L1254.7 176.74 L1254.9 176.59 L1255.1 176.44 L1255.3 176.29 L1255.5 176.15 L1255.7 176 L1255.9 175.86 L1256.1 175.72 L1256.3 175.57 L1256.5 175.43 L1256.7 175.29 L1256.9 175.15 L1257.1 175.01 L1257.3 174.87 L1257.5 174.73 L1257.7 174.59 L1257.9 174.45 L1258.1 174.31 L1258.3 174.17 L1258.5 174.04 L1258.7 173.9 L1258.9 173.77 L1259.1 173.63 L1259.3 173.5 L1259.5 173.36 L1259.7 173.23 L1259.9 173.09 L1260.1 172.96 L1260.3 172.83 L1260.5 172.7 L1260.7 172.56 L1260.9 172.43 L1261.1 172.3 L1261.3 172.17 L1261.5 172.04 L1261.7 171.91 L1261.9 171.78 L1262.1 171.65 L1262.3 171.52 L1262.5 171.4 L1262.7 171.27 L1262.9 171.14 L1263.1 171.01 L1263.3 170.89 L1263.5 170.76 L1263.7 170.63 L1263.9 170.51 L1264.1 170.38 L1264.3 170.26 L1264.5 170.13 L1264.7 170.01 L1264.9 169.88 L1265.1 169.76 L1265.3 169.63 L1265.5 169.51 L1265.7 169.39 L1265.9 169.26 L1266.1 169.14 L1266.3 169.02 L1266.5 168.89 L1266.7 168.77 L1266.9 168.65 L1267.1 168.53 L1267.3 168.4 L1267.5 168.28 L1267.7 168.16 L1267.9 168.04 L1268.1 167.92 L1268.3 167.8 L1268.5 167.68 L1268.7 167.56 L1268.9 167.43 L1269.1 167.31 L1269.3 167.19 L1269.5 167.07 L1269.7 166.95 L1269.9 166.83 L1270.1 166.71 L1270.3 166.59 L1270.5 166.47 L1270.7 166.35 L1270.9 166.23 L1271.1 166.11 L1271.3 165.99 L1271.5 165.87 L1271.7 165.75 L1271.9 165.64 L1272.1 165.52 L1272.3 165.4 L1272.5 165.28 L1272.7 165.16 L1272.9 165.04 L1273.1 164.92 L1273.3 164.8 L1273.5 164.68 L1273.7 164.56 L1273.9 164.44 L1274.1 164.32 L1274.3 164.2 L1274.5 164.08 L1274.7 163.96 L1274.9 163.85 L1275.1 163.73 L1275.3 163.61 L1275.5 163.49 L1275.7 163.37 L1275.9 163.25 L1276.1 163.13 L1276.3 163.01 L1276.5 162.89 L1276.7 162.77 L1276.9 162.65 L1277.1 162.53 L1277.3 162.41 L1277.5 162.29 L1277.7 162.17 L1277.9 162.04 L1278.1 161.92 L1278.3 161.8 L1278.5 161.68 L1278.7 161.56 L1278.9 161.44 L1279.1 161.32 L1279.3 161.2 L1279.5 161.07 L1279.7 160.95 L1279.9 160.83 L1280.1 160.71 L1280.3 160.58 L1280.5 160.46 L1280.7 160.34 L1280.9 160.21 L1281.1 160.09 L1281.3 159.97 L1281.5 159.84 L1281.7 159.72 L1281.9 159.59 L1282.1 159.47 L1282.3 159.34 L1282.5 159.22 L1282.7 159.09 L1282.9 158.97 L1283.1 158.84 L1283.3 158.71 L1283.5 158.59 L1283.7 158.46 L1283.9 158.33 L1284.1 158.2 L1284.3 158.08 L1284.5 157.95 L1284.7 157.82 L1284.9 157.69 L1285.1 157.56 L1285.3 157.43 L1285.5 157.3 L1285.7 157.17 L1285.9 157.04 L1286.1 156.9 L1286.3 156.77 L1286.5 156.64 L1286.7 156.51 L1286.9 156.37 L1287.1 156.24 L1287.3 156.1 L1287.5 155.97 L1287.7 155.83 L1287.9 155.7 L1288.1 155.56 L1288.3 155.43 L1288.5 155.29 L1288.7 155.15 L1288.9 155.01 L1289.1 154.87 L1289.3 154.73 L1289.5 154.59 L1289.7 154.45 L1289.9 154.31 L1290.1 154.17 L1290.3 154.03 L1290.5 153.88 L1290.7 153.74 L1290.9 153.6 L1291.1 153.45 L1291.3 153.31 L1291.5 153.16 L1291.7 153.01 L1291.9 152.86 L1292.1 152.72 L1292.3 152.57 L1292.5 152.42 L1292.7 152.27 L1292.9 152.11 L1293.1 151.96 L1293.3 151.81 L1293.5 151.65 L1293.7 151.5 L1293.9 151.34 L1294.1 151.19 L1294.3 151.03 L1294.5 150.87 L1294.7 150.71 L1294.9 150.55 L1295.1 150.39 L1295.3 150.23 L1295.5 150.07 L1295.7 149.9 L1295.9 149.74 L1296.1 149.57 L1296.3 149.41 L1296.5 149.24 L1296.7 149.07 L1296.9 148.9 L1297.1 148.73 L1297.3 148.56 L1297.5 148.38 L1297.7 148.21 L1297.9 148.03 L1298.1 147.86 L1298.3 147.68 L1298.5 147.5 L1298.7 147.32 L1298.9 147.14 L1299.1 146.95 L1299.3 146.77 L1299.5 146.58 L1299.7 146.4 L1299.9 146.21 L1300.1 146.02 L1300.3 145.83 L1300.5 145.63 L1300.7 145.44 L1300.9 145.24 L1301.1 145.05 L1301.3 144.85 L1301.5 144.65 L1301.7 144.44 L1301.9 144.24 L1302.1 144.03 L1302.3 143.83 L1302.5 143.62 L1302.7 143.41 L1302.9 143.19 L1303.1 142.98 L1303.3 142.76 L1303.5 142.54 L1303.7 142.32 L1303.9 142.1 L1304.1 141.87 L1304.3 141.65 L1304.5 141.42 L1304.7 141.19 L1304.9 140.95 L1305.1 140.72 L1305.3 140.48 L1305.5 140.24 L1305.7 140 L1305.9 139.75 L1306.1 139.5 L1306.3 139.25 L1306.5 139 L1306.7 138.75 L1306.9 138.49 L1307.1 138.23 L1307.3 137.96 L1307.5 137.7 L1307.7 137.43 L1307.9 137.15 L1308.1 136.88 L1308.3 136.6 L1308.5 136.32 L1308.7 136.03 L1308.9 135.74 L1309.1 135.45 L1309.3 135.16 L1309.5 134.86 L1309.7 134.55 L1309.9 134.25 L1310.1 133.94 L1310.3 133.62 L1310.5 133.3 L1310.7 132.98 L1310.9 132.66 L1311.1 132.32 L1311.3 131.99 L1311.5 131.65 L1311.7 131.31 L1311.9 130.96 L1312.1 130.6 L1312.3 130.24 L1312.5 129.88 L1312.7 129.51 L1312.9 129.14 L1313.1 128.76 L1313.3 128.37 L1313.5 127.98 L1313.7 127.58 L1313.9 127.18 L1314.1 126.77 L1314.3 126.36 L1314.5 125.93 L1314.7 125.5 L1314.9 125.07 L1315.1 124.63 L1315.3 124.18 L1315.5 123.72 L1315.7 123.25 L1315.9 122.78 L1316.1 122.3 L1316.3 121.81 L1316.5 121.31 L1316.7 120.8 L1316.9 120.29 L1317.1 119.76 L1317.3 119.23 L1317.5 118.68 L1317.7 118.13 L1317.9 117.56 L1318.1 116.98 L1318.3 116.4 L1318.5 115.8 L1318.7 115.18 L1318.9 114.56 L1319.1 113.92 L1319.3 113.27 L1319.5 112.61 L1319.7 111.93 L1319.9 111.24 L1320.1 110.53 L1320.3 109.8 L1320.5 109.06 L1320.7 108.3 L1320.9 107.53 L1321.1 106.74 L1321.3 105.92 L1321.5 105.09 L1321.7 104.24 L1321.9 103.37 L1322.1 102.47 L1322.3 101.55 L1322.5 100.61 L1322.7 99.65 L1322.9 98.65 L1323.1 97.63 L1323.3 96.59 L1323.5 95.51 L1323.7 94.4 L1323.9 93.26 L1324.1 92.09 L1324.3 90.88 L1324.5 89.63 L1324.7 88.35 L1324.9 87.02 L1325.1 85.66 L1325.3 84.25 L1325.5 82.79 L1325.7 81.28 L1325.9 79.72 L1326.1 78.11 L1326.3 76.44 L1326.5 74.7 L1326.7 72.91 L1326.9 71.04 L1327.1 69.1 L1327.3 67.09 L1327.5 64.99 L1327.7 62.81 L1327.9 60.54 L1328.1 58.16 L1328.3 55.69 L1328.5 53.1 L1328.7 50.39 L1328.9 47.55 L1329.1 44.58 L1329.3 41.45 L1329.5 38.17 L1329.7 34.71 L1329.9 31.06 L1330.1 27.21 L1330.3 23.15 L1330.5 18.84 L1330.7 14.26 L1330.9 9.4 L1331.1 4.23 L1331.3 -1.3 L1331.5 -7.21 L1331.7 -13.54 L1331.9 -20.35 L1332.1 -27.69 L1332.3 -35.63 L1332.5 -44.24 L1332.7 -53.62 L1332.9 -63.86 L1333.1 -75.09 L1333.3 -87.47 L1333.5 -101.19 L1333.7 -116.47" fill="none" stroke="#04679b" stroke-width="2.75" stroke-linejoin="round"/>
<path d="M1340.7 446.07 L1340.9 430.79 L1341.1 417.07 L1341.3 404.69 L1341.5 393.46 L1341.7 383.22 L1341.9 373.84 L1342.1 365.23 L1342.3 357.29 L1342.5 349.95 L1342.7 343.14 L1342.9 336.81 L1343.1 330.9 L1343.3 325.37 L1343.5 320.2 L1343.7 315.34 L1343.9 310.76 L1344.1 306.45 L1344.3 302.39 L1344.5 298.54 L1344.7 294.89 L1344.9 291.43 L1345.1 288.15 L1345.3 285.02 L1345.5 282.05 L1345.7 279.21 L1345.9 276.5 L1346.1 273.91 L1346.3 271.44 L1346.5 269.06 L1346.7 266.79 L1346.9 264.61 L1347.1 262.51 L1347.3 260.5 L1347.5 258.56 L1347.7 256.69 L1347.9 254.9 L1348.1 253.16 L1348.3 251.49 L1348.5 249.88 L1348.7 248.32 L1348.9 246.81 L1349.1 245.35 L1349.3 243.94 L1349.5 242.58 L1349.7 241.25 L1349.9 239.97 L1350.1 238.72 L1350.3 237.51 L1350.5 236.34 L1350.7 235.2 L1350.9 234.09 L1351.1 233.01 L1351.3 231.97 L1351.5 230.95 L1351.7 229.95 L1351.9 228.99 L1352.1 228.05 L1352.3 227.13 L1352.5 226.23 L1352.7 225.36 L1352.9 224.51 L1353.1 223.68 L1353.3 222.86 L1353.5 222.07 L1353.7 221.3 L1353.9 220.54 L1354.1 219.8 L1354.3 219.07 L1354.5 218.36 L1354.7 217.67 L1354.9 216.99 L1355.1 216.33 L1355.3 215.68 L1355.5 215.04 L1355.7 214.42 L1355.9 213.8 L1356.1 213.2 L1356.3 212.62 L1356.5 212.04 L1356.7 211.47 L1356.9 210.92 L1357.1 210.37 L1357.3 209.84 L1357.5 209.31 L1357.7 208.8 L1357.9 208.29 L1358.1 207.79 L1358.3 207.3 L1358.5 206.82 L1358.7 206.35 L1358.9 205.88 L1359.1 205.42 L1359.3 204.97 L1359.5 204.53 L1359.7 204.1 L1359.9 203.67 L1360.1 203.24 L1360.3 202.83 L1360.5 202.42 L1360.7 202.02 L1360.9 201.62 L1361.1 201.23 L1361.3 200.84 L1361.5 200.46 L1361.7 200.09 L1361.9 199.72 L1362.1 199.36 L1362.3 199 L1362.5 198.64 L1362.7 198.29 L1362.9 197.95 L1363.1 197.61 L1363.3 197.28 L1363.5 196.94 L1363.7 196.62 L1363.9 196.3 L1364.1 195.98 L1364.3 195.66 L1364.5 195.35 L1364.7 195.05 L1364.9 194.74 L1365.1 194.44 L1365.3 194.15 L1365.5 193.86 L1365.7 193.57 L1365.9 193.28 L1366.1 193 L1366.3 192.72 L1366.5 192.45 L1366.7 192.17 L1366.9 191.9 L1367.1 191.64 L1367.3 191.37 L1367.5 191.11 L1367.7 190.85 L1367.9 190.6 L1368.1 190.35 L1368.3 190.1 L1368.5 189.85 L1368.7 189.6 L1368.9 189.36 L1369.1 189.12 L1369.3 188.88 L1369.5 188.65 L1369.7 188.41 L1369.9 188.18 L1370.1 187.95 L1370.3 187.73 L1370.5 187.5 L1370.7 187.28 L1370.9 187.06 L1371.1 186.84 L1371.3 186.62 L1371.5 186.41 L1371.7 186.19 L1371.9 185.98 L1372.1 185.77 L1372.3 185.57 L1372.5 185.36 L1372.7 185.16 L1372.9 184.95 L1373.1 184.75 L1373.3 184.55 L1373.5 184.36 L1373.7 184.16 L1373.9 183.97 L1374.1 183.77 L1374.3 183.58 L1374.5 183.39 L1374.7 183.2 L1374.9 183.02 L1375.1 182.83 L1375.3 182.65 L1375.5 182.46 L1375.7 182.28 L1375.9 182.1 L1376.1 181.92 L1376.3 181.74 L1376.5 181.57 L1376.7 181.39 L1376.9 181.22 L1377.1 181.04 L1377.3 180.87 L1377.5 180.7 L1377.7 180.53 L1377.9 180.36 L1378.1 180.19 L1378.3 180.03 L1378.5 179.86 L1378.7 179.7 L1378.9 179.53 L1379.1 179.37 L1379.3 179.21 L1379.5 179.05 L1379.7 178.89 L1379.9 178.73 L1380.1 178.57 L1380.3 178.41 L1380.5 178.26 L1380.7 178.1 L1380.9 177.95 L1381.1 177.79 L1381.3 177.64 L1381.5 177.49 L1381.7 177.33 L1381.9 177.18 L1382.1 177.03 L1382.3 176.88 L1382.5 176.74 L1382.7 176.59 L1382.9 176.44 L1383.1 176.29 L1383.3 176.15 L1383.5 176 L1383.7 175.86 L1383.9 175.72 L1384.1 175.57 L1384.3 175.43 L1384.5 175.29 L1384.7 175.15 L1384.9 175.01 L1385.1 174.87 L1385.3 174.73 L1385.5 174.59 L1385.7 174.45 L1385.9 174.31 L1386.1 174.17 L1386.3 174.04 L1386.5 173.9 L1386.7 173.77 L1386.9 173.63 L1387.1 173.5 L1387.3 173.36 L1387.5 173.23 L1387.7 173.09 L1387.9 172.96 L1388.1 172.83 L1388.3 172.7 L1388.5 172.56 L1388.7 172.43 L1388.9 172.3 L1389.1 172.17 L1389.3 172.04 L1389.5 171.91 L1389.7 171.78 L1389.9 171.65 L1390.1 171.52 L1390.3 171.4 L1390.5 171.27 L1390.7 171.14 L1390.9 171.01 L1391.1 170.89 L1391.3 170.76 L1391.5 170.63 L1391.7 170.51 L1391.9 170.38 L1392.1 170.26 L1392.3 170.13 L1392.5 170.01 L1392.7 169.88 L1392.9 169.76 L1393.1 169.63 L1393.3 169.51 L1393.5 169.39 L1393.7 169.26 L1393.9 169.14 L1394.1 169.02 L1394.3 168.89 L1394.5 168.77 L1394.7 168.65 L1394.9 168.53 L1395.1 168.4 L1395.3 168.28 L1395.5 168.16 L1395.7 168.04 L1395.9 167.92 L1396.1 167.8 L1396.3 167.68 L1396.5 167.56 L1396.7 167.43 L1396.9 167.31 L1397.1 167.19 L1397.3 167.07 L1397.5 166.95 L1397.7 166.83 L1397.9 166.71 L1398.1 166.59 L1398.3 166.47 L1398.5 166.35 L1398.7 166.23 L1398.9 166.11 L1399.1 165.99 L1399.3 165.87 L1399.5 165.75 L1399.7 165.64 L1399.9 165.52 L1400.1 165.4 L1400.3 165.28 L1400.5 165.16 L1400.7 165.04 L1400.9 164.92 L1401.1 164.8 L1401.3 164.68 L1401.5 164.56 L1401.7 164.44 L1401.9 164.32 L1402.1 164.2 L1402.3 164.08 L1402.5 163.96 L1402.7 163.85 L1402.9 163.73 L1403.1 163.61 L1403.3 163.49 L1403.5 163.37 L1403.7 163.25 L1403.9 163.13 L1404.1 163.01 L1404.3 162.89 L1404.5 162.77 L1404.7 162.65 L1404.9 162.53 L1405.1 162.41 L1405.3 162.29 L1405.5 162.17 L1405.7 162.04 L1405.9 161.92 L1406.1 161.8 L1406.3 161.68 L1406.5 161.56 L1406.7 161.44 L1406.9 161.32 L1407.1 161.2 L1407.3 161.07 L1407.5 160.95 L1407.7 160.83 L1407.9 160.71 L1408.1 160.58 L1408.3 160.46 L1408.5 160.34 L1408.7 160.21 L1408.9 160.09 L1409.1 159.97 L1409.3 159.84 L1409.5 159.72 L1409.7 159.59 L1409.9 159.47 L1410.1 159.34 L1410.3 159.22 L1410.5 159.09 L1410.7 158.97 L1410.9 158.84 L1411.1 158.71 L1411.3 158.59 L1411.5 158.46 L1411.7 158.33 L1411.9 158.2 L1412.1 158.08 L1412.3 157.95 L1412.5 157.82 L1412.7 157.69 L1412.9 157.56 L1413.1 157.43 L1413.3 157.3 L1413.5 157.17 L1413.7 157.04 L1413.9 156.9 L1414.1 156.77 L1414.3 156.64 L1414.5 156.51 L1414.7 156.37 L1414.9 156.24 L1415.1 156.1 L1415.3 155.97 L1415.5 155.83 L1415.7 155.7 L1415.9 155.56 L1416.1 155.43 L1416.3 155.29 L1416.5 155.15 L1416.7 155.01 L1416.9 154.87 L1417.1 154.73 L1417.3 154.59 L1417.5 154.45 L1417.7 154.31 L1417.9 154.17 L1418.1 154.03 L1418.3 153.88 L1418.5 153.74 L1418.7 153.6 L1418.9 153.45 L1419.1 153.31 L1419.3 153.16 L1419.5 153.01 L1419.7 152.86 L1419.9 152.72 L1420.1 152.57 L1420.3 152.42 L1420.5 152.27 L1420.7 152.11 L1420.9 151.96 L1421.1 151.81 L1421.3 151.65 L1421.5 151.5 L1421.7 151.34 L1421.9 151.19 L1422.1 151.03 L1422.3 150.87 L1422.5 150.71 L1422.7 150.55 L1422.9 150.39 L1423.1 150.23 L1423.3 150.07 L1423.5 149.9 L1423.7 149.74 L1423.9 149.57 L1424.1 149.41 L1424.3 149.24 L1424.5 149.07 L1424.7 148.9 L1424.9 148.73 L1425.1 148.56 L1425.3 148.38 L1425.5 148.21 L1425.7 148.03 L1425.9 147.86 L1426.1 147.68 L1426.3 147.5 L1426.5 147.32 L1426.7 147.14 L1426.9 146.95 L1427.1 146.77 L1427.3 146.58 L1427.5 146.4 L1427.7 146.21 L1427.9 146.02 L1428.1 145.83 L1428.3 145.63 L1428.5 145.44 L1428.7 145.24 L1428.9 145.05 L1429.1 144.85 L1429.3 144.65 L1429.5 144.44 L1429.7 144.24 L1429.9 144.03" fill="none" stroke="#04679b" stroke-width="2.75" stroke-linejoin="round"/>
<line x1="1081.8" y1="38.5" x2="1081.8" y2="291.1" stroke="#04679b" stroke-width="2.75"/>
<line x1="1209.4" y1="38.5" x2="1209.4" y2="291.1" stroke="#04679b" stroke-width="2.75"/>
<line x1="1337.2" y1="38.5" x2="1337.2" y2="291.1" stroke="#04679b" stroke-width="2.75"/>
</g>
<rect x="1019.2" y="43.5" width="410.4" height="242.6" fill="none" stroke="#000" stroke-width="2.5"/>
<line x1="1005.8" y1="43.5" x2="1019.2" y2="43.5" stroke="#000" stroke-width="2.5"/>
<line x1="1005.8" y1="164.8" x2="1019.2" y2="164.8" stroke="#000" stroke-width="2.5"/>
<line x1="1005.8" y1="286.1" x2="1019.2" y2="286.1" stroke="#000" stroke-width="2.5"/>
<line x1="1019.2" y1="286.1" x2="1019.2" y2="299.5" stroke="#000" stroke-width="2.5"/>
<line x1="1081.8" y1="286.1" x2="1081.8" y2="299.5" stroke="#000" stroke-width="2.5"/>
<line x1="1209.4" y1="286.1" x2="1209.4" y2="299.5" stroke="#000" stroke-width="2.5"/>
<line x1="1337.2" y1="286.1" x2="1337.2" y2="299.5" stroke="#000" stroke-width="2.5"/>
<line x1="1429.6" y1="286.1" x2="1429.6" y2="299.5" stroke="#000" stroke-width="2.5"/>
<rect x="669" y="470.4" width="759.4" height="489.1" fill="#fcdec3"/>
<line x1="567.3" y1="470.4" x2="567.3" y2="959.5" stroke="#cf0c00" stroke-width="2.75"/>
<line x1="1175.1" y1="470.4" x2="1175.1" y2="959.5" stroke="#cf0c00" stroke-width="2.75"/>
<line x1="669" y1="470.4" x2="669" y2="959.5" stroke="#54c8ab" stroke-width="5.8"/>
<clipPath id="cb"><rect x="113.45" y="470.4" width="1314.95" height="489.1"/></clipPath>
<g clip-path="url(#cb)">
<path d="M669.2 714.9 L665.58 733.6 L654.72 752.3 L636.61 771 L611.26 789.7 L578.67 808.38 L538.84 827.06 L491.77 845.73 L437.45 864.39 L375.89 883.04 L307.09 901.68 L231.05 920.87 L147.77 941.11 L57.24 962.44" fill="none" stroke="#000" stroke-width="2.75" stroke-linejoin="round"/>
<path d="M669.2 714.9 L665.58 696.2 L654.72 677.5 L636.61 658.8 L611.26 640.1 L578.67 621.42 L538.84 602.74 L491.77 584.07 L437.45 565.41 L375.89 546.76 L307.09 528.12 L231.05 508.93 L147.77 488.69 L57.24 467.36" fill="none" stroke="#000" stroke-width="2.75" stroke-dasharray="10 10.3"/>
</g>
<circle cx="669.2" cy="713.9" r="8.5" fill="#0e100f"/>
<rect x="455" y="501.7" width="208" height="54" fill="#fff" fill-opacity="0.8"/>
<rect x="1095.9" y="501.7" width="168.7" height="54.3" fill="#fff" fill-opacity="0.8"/>
<rect x="113.45" y="470.4" width="1314.95" height="489.1" fill="none" stroke="#000" stroke-width="2.5"/>
<line x1="100.05" y1="492.65" x2="113.45" y2="492.65" stroke="#000" stroke-width="2.5"/>
<line x1="100.05" y1="603.72" x2="113.45" y2="603.72" stroke="#000" stroke-width="2.5"/>
<line x1="100.05" y1="714.8" x2="113.45" y2="714.8" stroke="#000" stroke-width="2.5"/>
<line x1="100.05" y1="825.88" x2="113.45" y2="825.88" stroke="#000" stroke-width="2.5"/>
<line x1="100.05" y1="936.95" x2="113.45" y2="936.95" stroke="#000" stroke-width="2.5"/>
<line x1="164.3" y1="959.5" x2="164.3" y2="972.9" stroke="#000" stroke-width="2.5"/>
<line x1="415.9" y1="959.5" x2="415.9" y2="972.9" stroke="#000" stroke-width="2.5"/>
<line x1="669.2" y1="959.5" x2="669.2" y2="972.9" stroke="#000" stroke-width="2.5"/>
<line x1="922.3" y1="959.5" x2="922.3" y2="972.9" stroke="#000" stroke-width="2.5"/>
<line x1="1175.2" y1="959.5" x2="1175.2" y2="972.9" stroke="#000" stroke-width="2.5"/>
<line x1="1428.4" y1="959.5" x2="1428.4" y2="972.9" stroke="#000" stroke-width="2.5"/>
<rect x="834.15" y="700.3" width="299.05" height="246.1" fill="#fff" stroke="#000" stroke-width="2.5"/>
<line x1="848.3" y1="731.4" x2="905.2" y2="731.4" stroke="#000" stroke-width="2.75"/>
<line x1="848.3" y1="776.5" x2="905.2" y2="776.5" stroke="#000" stroke-width="2.75" stroke-dasharray="11.7 10.75"/>
<circle cx="873.7" cy="820.5" r="8.5" fill="#0e100f"/>
<line x1="848.3" y1="871.9" x2="905.2" y2="871.9" stroke="#54c8ab" stroke-width="5.6"/>
<rect x="848.45" y="902.4" width="56.45" height="25.2" fill="#fcdec3" stroke="#3b3b3b" stroke-width="2.7"/>
<g font-family="'Liberation Sans', sans-serif" font-size="30.5" fill="#000" stroke="#fff" stroke-width="0.35" opacity="0.999">
<text x="145.97" y="25.9" textLength="106.01" lengthAdjust="spacingAndGlyphs">η = -0.2</text>
<text x="258.38" y="25.9" textLength="221.87" lengthAdjust="spacingAndGlyphs">(sub-threshold)</text>
<text x="582.16" y="25.9" textLength="106.73" lengthAdjust="spacingAndGlyphs">η = -0.2</text>
<text x="694.67" y="25.9" textLength="252.82" lengthAdjust="spacingAndGlyphs">(super-threshold)</text>
<text x="1135.36" y="25.9" textLength="64.62" lengthAdjust="spacingAndGlyphs">η = 1</text>
<text x="1211.6" y="25.9" textLength="92.1" lengthAdjust="spacingAndGlyphs">(tonic)</text>
<text x="73.12" y="56.8" textLength="17.39" lengthAdjust="spacingAndGlyphs">5</text>
<text x="72.63" y="177.9" textLength="18.26" lengthAdjust="spacingAndGlyphs">0</text>
<text x="62.15" y="300.8" textLength="28.67" lengthAdjust="spacingAndGlyphs">-5</text>
<text x="104.08" y="333.7" textLength="18.34" lengthAdjust="spacingAndGlyphs">0</text>
<text x="300.9" y="333.7" textLength="34.89" lengthAdjust="spacingAndGlyphs">50</text>
<text x="477.41" y="333.7" textLength="53.33" lengthAdjust="spacingAndGlyphs">100</text>
<text x="554.54" y="333.7" textLength="18.41" lengthAdjust="spacingAndGlyphs">0</text>
<text x="928.73" y="333.7" textLength="55.24" lengthAdjust="spacingAndGlyphs">200</text>
<text x="1010.16" y="333.7" textLength="18.55" lengthAdjust="spacingAndGlyphs">0</text>
<text x="1385.17" y="333.7" textLength="55.38" lengthAdjust="spacingAndGlyphs">200</text>
<text x="643.63" y="333.8"><tspan font-style="italic">t</tspan><tspan font-size="18.7" dy="10.1" dx="1.5" stroke-width="0.12">1</tspan></text>
<text x="1072.12" y="333.8"><tspan font-style="italic">t</tspan><tspan font-size="18.7" dy="10.1" dx="1.5" stroke-width="0.12">1</tspan></text>
<text x="1199.33" y="333.8"><tspan font-style="italic">t</tspan><tspan font-size="18.7" dy="10.1" dx="1.5" stroke-width="0.12">2</tspan></text>
<text x="1326.33" y="333.8"><tspan font-style="italic">t</tspan><tspan font-size="18.7" dy="10.1" dx="1.5" stroke-width="0.12">3</tspan></text>
<text x="238.11" y="380.8" textLength="72.78" lengthAdjust="spacingAndGlyphs">Time</text>
<text x="316.46" y="380.8" textLength="11.86" lengthAdjust="spacingAndGlyphs"><tspan font-style="italic">t</tspan></text>
<text x="335.34" y="380.8" textLength="65.78" lengthAdjust="spacingAndGlyphs">[ms]</text>
<text x="688.55" y="380.8" textLength="72.7" lengthAdjust="spacingAndGlyphs">Time</text>
<text x="766.62" y="380.8" textLength="11.75" lengthAdjust="spacingAndGlyphs"><tspan font-style="italic">t</tspan></text>
<text x="785.77" y="380.8" textLength="65.4" lengthAdjust="spacingAndGlyphs">[ms]</text>
<text x="1144.02" y="380.8" textLength="73" lengthAdjust="spacingAndGlyphs">Time</text>
<text x="1222.35" y="380.8" textLength="11.5" lengthAdjust="spacingAndGlyphs"><tspan font-style="italic">t</tspan></text>
<text x="1241.09" y="380.8" textLength="65.91" lengthAdjust="spacingAndGlyphs">[ms]</text>
<text transform="translate(25.94 247.9) rotate(-90)" x="-1.1" y="0" textLength="164.32" lengthAdjust="spacingAndGlyphs">Voltage V(<tspan font-style="italic">t</tspan>)</text>
<text transform="translate(25.9 723.7) rotate(-90)" x="-0.59" y="0" textLength="19.25" lengthAdjust="spacingAndGlyphs">V</text>
<text x="450.55" y="81.9" textLength="48.8" lengthAdjust="spacingAndGlyphs">(a<tspan font-size="18.7" dy="10.1" stroke-width="0.12">1</tspan><tspan dy="-10.1">)</tspan></text>
<text x="900.55" y="81.9" textLength="48.8" lengthAdjust="spacingAndGlyphs">(a<tspan font-size="18.7" dy="10.1" stroke-width="0.12">2</tspan><tspan dy="-10.1">)</tspan></text>
<text x="1356.53" y="81.9" textLength="48.78" lengthAdjust="spacingAndGlyphs">(a<tspan font-size="18.7" dy="10.1" stroke-width="0.12">3</tspan><tspan dy="-10.1">)</tspan></text>
<text x="1356.62" y="508.7" textLength="39.86" lengthAdjust="spacingAndGlyphs" stroke="#fcdec3">(b)</text>
<text x="47.27" y="504.9" textLength="43.57" lengthAdjust="spacingAndGlyphs">1.0</text>
<text x="46.31" y="614.2" textLength="44.3" lengthAdjust="spacingAndGlyphs">0.5</text>
<text x="46.31" y="725" textLength="44.67" lengthAdjust="spacingAndGlyphs">0.0</text>
<text x="36.42" y="836.1" textLength="54.58" lengthAdjust="spacingAndGlyphs">-0.5</text>
<text x="36.39" y="949" textLength="54.4" lengthAdjust="spacingAndGlyphs">-1.0</text>
<text x="133.11" y="1006" textLength="61.68" lengthAdjust="spacingAndGlyphs">- 1.0</text>
<text x="384.41" y="1006" textLength="62.55" lengthAdjust="spacingAndGlyphs">- 0.5</text>
<text x="646.05" y="1006" textLength="44.56" lengthAdjust="spacingAndGlyphs">0.0</text>
<text x="899.34" y="1006" textLength="45.12" lengthAdjust="spacingAndGlyphs">0.5</text>
<text x="1152.83" y="1006" textLength="43.99" lengthAdjust="spacingAndGlyphs">1.0</text>
<text x="1405.97" y="1006" textLength="43.65" lengthAdjust="spacingAndGlyphs">1.5</text>
<text x="761.15" y="1051.7" textLength="19.15" lengthAdjust="spacingAndGlyphs">η</text>
<text x="454.61" y="539.65" textLength="106.21" lengthAdjust="spacingAndGlyphs">η = -0.2</text>
<text x="567.58" y="539.65" textLength="91.81" lengthAdjust="spacingAndGlyphs">(a<tspan font-size="18.7" dy="10.1" stroke-width="0.12">1</tspan><tspan dy="-10.1">, a</tspan><tspan font-size="18.7" dy="10.1" stroke-width="0.12">2</tspan><tspan dy="-10.1">)</tspan></text>
<text x="1115.16" y="539.65" textLength="65.79" lengthAdjust="spacingAndGlyphs" stroke="#fef9f3">η = 1</text>
<text x="1193.08" y="539.65" textLength="47.13" lengthAdjust="spacingAndGlyphs" stroke="#fef9f3">(a<tspan font-size="18.7" dy="10.1" stroke-width="0.12">3</tspan><tspan dy="-10.1">)</tspan></text>
<text x="925.64" y="742.95" textLength="90.45" lengthAdjust="spacingAndGlyphs">Stable</text>
<text x="1024.11" y="742.95" textLength="33" lengthAdjust="spacingAndGlyphs">FP</text>
<text x="925.36" y="788.7" textLength="129.02" lengthAdjust="spacingAndGlyphs">Unstable</text>
<text x="1063.78" y="788.7" textLength="33.97" lengthAdjust="spacingAndGlyphs">FP</text>
<text x="925.64" y="834.3" textLength="185.95" lengthAdjust="spacingAndGlyphs">Saddle-Node</text>
<text x="925.83" y="880.9" textLength="69.39" lengthAdjust="spacingAndGlyphs">SNIC</text>
<text x="925.64" y="928.3" textLength="90.45" lengthAdjust="spacingAndGlyphs">Stable</text>
<text x="1023.5" y="928.3" textLength="50.76" lengthAdjust="spacingAndGlyphs">LCs</text>
</g>
</svg>
</body></html>
